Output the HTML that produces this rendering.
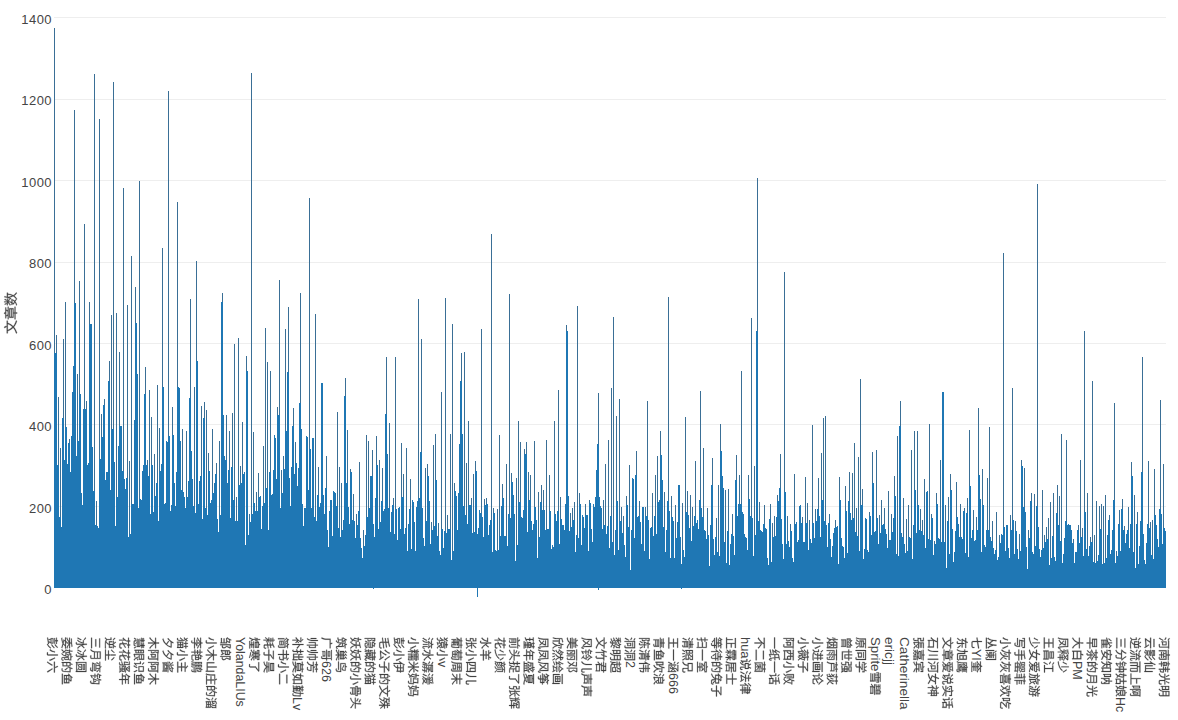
<!DOCTYPE html>
<html lang="zh"><head><meta charset="utf-8"><title>文章数</title>
<style>
html,body{margin:0;padding:0;background:#fff;}
body{width:1178px;height:720px;overflow:hidden;font-family:"Liberation Sans",sans-serif;}
svg{display:block;}
.yt text{font-size:13px;letter-spacing:0.45px;fill:#444;text-anchor:end;}
.xt text{fill:#444;}
.cj{stroke:#444;stroke-width:1.8;}
.g path{stroke:#eee;stroke-width:1;fill:none;shape-rendering:crispEdges;}
</style></head>
<body>
<svg width="1178" height="720" viewBox="0 0 1178 720" font-family="'Liberation Sans', sans-serif">
<rect width="1178" height="720" fill="#fff"/>
<defs><path id="u6587" d="M42,-82l5,8l3,7l8-2l-3-8l-5-8zM5,-66v7h16l4,11l6,10l6,10l8,8l-9,6l-10,6l-11,5l-11,4l4,7l12-5l11-5l10-6l9-7l9,7l10,6l11,5l12,4l5-7l-12-3l-10-5l-10-5l-9-7l7-8l6-9l6-11l5-11h15v-7zM50,-25l-6-8l-6-8l-5-9l-5-9h43l-4,10l-5,9l-5,7l-7,8z"/><path id="u7ae0" d="M24,-30h52v7h-52zM24,-42h52v7h-52zM16,-48v30h30v8h-41v6h41v12h8v-12h41v-6h-41v-8h30v-30zM26,-68l5,9h-26v6h90v-6h-26l5-9l-8-2l-5,11h-22l-5-10zM43,-84l4,8h-35v6h77v-6h-33l-5-9z"/><path id="u6570" d="M44,-82l-3,7l-4,6l5,3l4-6l5-7zM9,-79l4,7l2,6l6-3l-3-6l-4-7zM41,-26l-4,7l-5,6l-6-2l-6-3l5-8zM11,-15l8,3l7,4l-5,3l-5,3l-6,2l-6,1l4,6l6-2l7-3l6-3l6-4l8,6l5-5l-8-6l3-4l4-5l2-6l3-6l-5-2l-1,1h-16l2-6l-7-1l-2,7h-14v6h11l-4,6l-3,5zM26,-84v19h-21v6h18l-4,5l-5,4l-5,4l-5,2l4,6l6-4l6-5l6-6v13h7v-14l7,6l6,4l4-5l-4-3l-6-4l-6-3h19v-6h-20v-19zM63,-83l-2,13l-4,12l-4,11l-5,9l6,4l3-6l4-7l1,8l2,6l3,7l2,6l-4,7l-6,6l-6,5l-8,4l4,6l7-4l7-5l5-6l5-6l4,6l5,6l5,4l5,4l5-6l-6-4l-5-5l-5-5l-4-7l4-8l3-9l2-10l2-11h7v-7h-29l2-8l2-9zM81,-58l-1,9l-2,8l-2,7l-3,6l-2-7l-3-7l-2-8l-1-8z"/><path id="u5f6d" d="M17,-40h30v11h-30zM10,-46v23h44v-23zM15,-20l4,8l1,7l7-2l-2-7l-3-8zM84,-82l-4,6l-7,5l-6,5l-7,4l5,6l7-5l7-5l7-7l6-6zM87,-55l-5,6l-7,6l-8,6l-7,4l6,5l7-5l8-5l7-7l6-7zM89,-26l-6,8l-8,8l-9,7l-10,5l5,6l10-6l10-7l8-9l7-9zM28,-84v9h-22v6h22v9h-19v6h47v-6h-20v-9h22v-6h-22v-9zM5,-1l1,7l12-2l13-2l14-2l14-2v-7l-15,3l3-7l2-8l-7-1l-2,5l-2,6l-2,6l-8,1l-9,1l-7,1l-7,1z"/><path id="u5c0f" d="M46,-83v81l-2,2h-7h-10l3,8h8h7l4-1l4-3l1-6v-81zM70,-57l7,11l5,12l5,12l3,10l8-3l-3-10l-5-12l-6-12l-6-11zM20,-59l-2,11l-4,11l-5,10l-6,9l7,4l7-9l5-11l4-12l3-12z"/><path id="u516d" d="M6,-58v8h89v-8zM31,-38l-6,11l-6,11l-7,10l-8,8l8,5l7-9l7-10l7-12l6-12zM60,-36l8,11l7,12l7,11l5,9l8-5l-5-9l-7-10l-8-11l-7-11zM41,-81l3,7l4,8l2,6l8-3l-3-6l-3-7l-4-8z"/><path id="u59d4" d="M66,-23l-3,5l-5,5l-5,3l-7-1l-7-2l-7-1l6-9zM19,-11l7,1l6,2l6,1l6,2l-7,2l-9,2l-11,2h-11l3,7l14-1l12-3l11-3l9-3l9,2l9,3l8,2l6,3l7-6l-7-2l-7-3l-9-2l-9-2l5-5l4-5l3-6h22v-7h-53l5-7h6v-20l8,7l9,6l10,6l10,3l5-6l-9-3l-9-3l-8-5l-8-5h32v-7h-40v-10l8-1l8-1l7-1l7-1l-6-6l-13,2l-16,2l-18,1l-18,1l1,6h8l8-1h8l8-1v10h-40v7h31l-7,5l-8,5l-9,4l-9,3l4,6l10-4l11-5l9-6l8-8v18l-5-1l-3,5l-4,5h-29v7h25l-6,6l-4,6z"/><path id="u5a49" d="M68,-54v49l3,10l7,2h7l6-1l4-4l1-11l-6-3v10l-2,3h-4h-5h-3l-2-5v-44h11v24l-1,2h-8l2,6l11-2l3-6v-30zM59,-82l5,8h-26v17h7v-10h42v10h7v-17h-23l-2-5l-4-6zM44,-27l9,7l-4,8l-4,6l-4,5l-6,4l5,5l9-8l8-13l5-17l4-21l-4-1h-2h-9l2-7l-6-1l-2,9l-3,9l-4,7l-4,7l5,4l3-5l3-5l2-6l3-6h8v7l-2,6l-1,6l-8-5zM28,-56l-1,9l-2,9l-1,9l-3,7l-8-8l1-6l2-6l1-7l1-7zM15,-84v7l-1,7l-1,7h-9v7h8l-2,8l-1,8l-2,7l-2,6l7,5l6,6l-4,8l-5,6l-6,4l4,6l5-4l4-4l4-5l3-5l5,5l3,5l5-5l-4-6l-5-6l3-9l2-11l2-12l1-14l-4-1l-1,1h-11l1-7l1-7l1-6z"/><path id="u7684" d="M55,-42l4,6l5,6l4,6l2,5l7-4l-3-5l-4-6l-5-6l-4-6zM24,-84l-2,8l-2,8h-11v73h7v-7h28v-66h-17l2-7l3-8zM16,-61h21v21h-21zM16,-9v-25h21v25zM60,-84l-3,10l-4,10l-4,9l-5,7l7,4l3-5l3-6l3-6h26l-1,25l-2,18l-1,11l-2,5l-5,1h-6h-9l3,7h8h7l8-4l2-6l2-12l2-19l1-29v-4h-30l2-7l2-8z"/><path id="u9c7c" d="M6,-4v8h88v-8zM24,-32h22v12h-22zM54,-32h23v12h-23zM24,-52h22v13h-22zM54,-52h23v13h-23zM34,-84l-5,7l-6,8l-8,8l-10,7l5,6l7-5v40h68v-45h-25l4-5l4-5l2-5l-4-3h-2h-26l4-7zM23,-58l5-5l5-6h27l-4,6l-5,5z"/><path id="u51b0" d="M4,-71l7,4l6,5l5,4l4-6l-5-4l-6-5l-7-4zM4,-9l6,5l5-7l4-8l4-8l4-8l-6-4l-4,8l-4,8l-5,8l-4,6zM28,-58v7h18l-4,14l-5,11l-6,10l-8,7l5,6l9-9l7-12l6-15l4-18l-4-1h-2zM88,-64l-4,4l-4,5l-5,5l-4,4l-2-6l-2-7l-2-7v-18h-8v82l-2,2h-5h-7l3,8h9l6-2l4-8v-43l5,13l6,11l7,10l9,7l6-6l-8-5l-6-7l-6-8l-5-9l6-5l5-5l5-6l5-5z"/><path id="u5706" d="M34,-63h32v7h-32zM27,-68v18h46v-18zM47,-35v6l-1,4l-3,5l-9,5l-16,5l4,5l17-5l9-6l5-7l1-6v-6zM52,-16l6,3l7,3l6,3l5,3l3-6l-5-2l-6-3l-7-3l-6-3zM25,-44v26h6v-20h37v19h7v-25zM8,-80v88h7v-4h69v4h8v-88zM15,-2v-72h69v72z"/><path id="u4e09" d="M12,-74v7h76v-7zM19,-42v8h61v-8zM6,-7v8h87v-8z"/><path id="u6708" d="M21,-79v31l-1,13l-2,13l-5,13l-10,12l6,5l6-7l5-7l4-9l2-8h48v20l-3,3h-4h-7h-8l4,8h9l7-1l5-1l4-3l1-6v-76zM28,-71h46v16h-46zM28,-48h46v18h-47l1-9v-9z"/><path id="u5f2f" d="M23,-65l-4,6l-5,6l-5,5l6,5l4-5l4-4l3-6l3-5zM69,-62l5,5l5,4l4,5l4,4l6-4l-4-4l-4-5l-5-4l-5-4zM19,-28l-2,6l-2,7l-2,6h8h59l-4,10h-5h-7h-10l2,6l10,1h8l8-2l2-4l2-5l2-8l1-4h-66l2-7h56v-20h-62v6h55v8h-52zM43,-83l5,8h-41v6h28v25h7v-25h16v25h7v-25h28v-6h-37l-6-10z"/><path id="u94a9" d="M56,-84l-3,9l-4,9l-4,9l-6,7l6,4l4-4l3-6l3-5h31l-1,26l-1,18l-2,11l-2,5l-3,2h-5l-8-1l3,8h7h6l7-4l2-6l2-12l1-20l1-30v-4h-35l3-7l2-7zM66,-39l2,6l3,7l-17,3l3-7l3-7l3-8l2-7l-7-2l-2,9l-3,8l-3,6l-2,4l-4,7l2,6l2-1l4-1l7-1l13-3l2,7l6-2l-1-6l-2-6l-3-7l-2-7zM18,-84l-3,7l-3,7l-4,6l-4,4l3,8l5-6l5-7h25v-8h-21l4-9zM19,7l2-1l4-2l6-4l12-6l-1-6l-15,7v-23h14v-6h-14v-14h11v-7h-27v7h9v14h-14v6h14v22l-4,7l3,6z"/><path id="u9006" d="M6,-76l5,5l6,6l3,5l6-4l-4-5l-5-6l-6-5zM36,-55v28h22l-3,5l-3,6l-7,4l-8,4l4,6l10-5l7-6l5-7l2-7h25v-28h-8v21h-16v-3v-23h28v-7h-18l5-7l4-8l-7-2l-3,6l-3,6l-4,5h-17l5-3l-2-4l-4-6l-4-5l-6,3l5,8l4,7h-18v7h28v22v4h-16v-21zM25,-48h-20v7h13v32l-7,4l-7,6l5,7l5-6l5-4l4-2l9,6l6,2l6,1l8,1h8h8h10h9h7l2-8l-8,1h-9l-10,1h-9h-8l-7-1l-6-1l-5-3l-9-5z"/><path id="u5c18" d="M26,-73l-4,6l-6,7l-6,5l-6,5l6,5l6-5l7-7l5-7l5-7zM66,-70l6,6l7,6l5,6l5,6l6-4l-4-6l-6-6l-6-6l-7-5zM46,-83v40h8v-40zM46,-39v12h-33v7h33v18h-42v7h92v-7h-42v-18h33v-7h-33v-12z"/><path id="u82b1" d="M85,-48l-5,4l-6,4l-7,4l-7,4v-24h-8v28l-8,3l-7,4l3,5l12-5v15l1,8l4,3l8,1h5h8h6l5-1l4-3l2-6l1-9l-7-3l-1,9l-2,5l-3,1h-9h-8l-6-5v-19l8-4l8-4l8-5l7-4zM31,-56l-5,8l-7,9l-6,7l-8,6l6,5l5-4l6-5v38h7v-48l5-7l4-7zM63,-84v10h-25v-10h-8v10h-24v7h24v9h8v-9h25v9h7v-9h24v-7h-24v-10z"/><path id="u9a9a" d="M3,-16l1,6l6-1l6-2l7-2l6-1v-6l-8,2l-6,1l-7,2l-5,1zM59,-71l7,8l5-3l-8-8zM9,-66l-1,9l-1,9l-1,9v7h25l-1,14l-1,10l-1,6l-2,3l-4,1h-11l2,6h7h5l7-3l2-4l1-7l2-12l1-17v-3h-7l1-9l1-11l1-11l1-11h-30v7h23l-1,9v9l-1,9l-1,8h-12v-6l1-8l1-7v-7zM82,-74l-5,6l-5,6l-6,5l-7-5l-5-6l-4-6zM41,-80v6h6l-4,2l4,5l4,5l4,4l5,4l-6,3l-6,2l-5,2l-6,2l3,6l7-2l6-3l7-3l6-3l6,3l7,3l7,2l7,2l4-6l-7-1l-6-2l-7-2l-5-3l6-5l5-5l5-7l3-7l-4-2h-1zM50,-32h13v12h-13zM70,-32h13v12h-13zM77,-11l6,8h-13v-11h19v-24h-19v-8h-7v8h-19v24h19v12l-25,1l1,6l48-2l3,5l6-2l-3-6l-5-7l-5-6z"/><path id="u5e74" d="M5,-22v7h46v23h8v-23h36v-7h-36v-20h29v-7h-29v-16h32v-7h-60l4-10l-7-2l-5,10l-5,9l-6,8l-7,7l7,5l4-4l3-5l4-5l4-6h24v16h-30v27zM29,-22v-20h22v20z"/><path id="u6167" d="M28,-16v13l1,6l5,3l8,1h6h10h6l7-1l3-4l2-9l-6-2l-2,8l-4,1h-7h-9h-6l-6-3v-13zM43,-16l7,6l6,5l5-4l-6-5l-8-6zM77,-14l5,7l3,6l3,6l7-2l-3-6l-4-7l-4-6zM16,-15l-3,6l-3,6l-3,5l6,3l4-5l3-6l2-6zM18,-36v5h59v6h-63v5h70v-27h-70v5h63v6zM7,-59v5h17v5h7v-5h15v-5h-15v-5h13v-5h-13v-5h14v-5h-14v-5h-7v5h-16v5h16v5h-14v5h14v5zM67,-84v5h-16v5h16v5h-13v5h13v5h-17v5h17v5h7v-5h19v-5h-19v-5h15v-5h-15v-5h17v-5h-17v-5z"/><path id="u773c" d="M82,-55v13h-31v-13zM82,-61h-31v-12h31zM43,8l2-1l4-1l8-3l12-3v-7l-18,5v-34h11l4,14l6,12l9,10l10,7l5-6l-5-3l-5-4l-5-4l-4-5l6-4l6-4l6-4l-5-5l-5,4l-5,4l-6,3l-3-7l-3-8h21v-44h-45v75l-4,7l3,6zM29,-50v14h-15v-14zM29,-57h-15v-14h15zM29,-30v15h-15v-15zM7,-78v78h7v-8h21v-70z"/><path id="u8bc6" d="M51,-70h31v30h-31zM44,-77v44h45v-44zM74,-20l4,6l4,8l3,7l2,6l7-3l-2-6l-3-7l-4-7l-4-7zM51,-23l-3,8l-3,7l-4,6l-5,6l7,4l5-6l4-7l4-8l3-8zM10,-77l6,5l5,6l5,4l5-5l-4-4l-6-6l-6-4zM5,-53v8h14v34l-2,7l-3,4l4,5l2-2l3-2l6-5l11-9l-3-6l-11,8v-42z"/><path id="u6728" d="M46,-84v25h-39v7h35l-7,13l-10,12l-11,10l-11,8l5,6l11-7l10-10l9-11l8-13v52h8v-52l8,12l9,12l10,9l10,8l6-6l-11-8l-11-10l-10-12l-8-13h37v-7h-40v-25z"/><path id="u963f" d="M38,-77v7h42v69l-2,2h-7h-11l3,7h9h6l5-1l5-8v-69h8v-7zM42,-56v44h6v-8h22v-36zM48,-49h15v23h-15zM8,-80v88h7v-81h13l-2,7l-3,8l-3,8l6,7l2,7l1,6l-2,7l-3,1h-6l2,6h7l5-2l3-4l1-7l-1-5l-1-5l-3-6l-4-6l2-6l3-7l3-7l2-6l-5-3h-1z"/><path id="u5915" d="M32,-41l6,4l7,5l6,4l5,5l-10,8l-10,7l-12,5l-12,4l5,7l24-9l20-16l17-21l11-28l-5-2h-2h-36l3-7l4-7l-8-2l-7,13l-9,12l-10,11l-11,8l6,6l8-6l6-6l7-7l6-8h38l-3,9l-4,9l-5,7l-5,7l-6-4l-6-5l-7-4l-6-4z"/><path id="u9171" d="M9,-77l6,7l5,6l5-3l-5-7l-6-6zM12,-30v38h7v-4h62v4h7v-38h-26v-5h32v-6h-88v6h31v5zM19,-1v-4h62v4zM19,-9v-16h18l-2,4l-5,2l-9,3l3,4l9-2l5-3l4-4l1-4h13v5l2,5l7,1h7h7h2v5zM43,-35h13v5h-13zM81,-18h-3h-6h-6l-4-2v-5h19zM60,-84l-3,5l-5,6l-6,5l-6,4l4,5l7-5l7-6h27l-4,5l-5,5l-6,4l-5-6l-5-5l-5,3l5,5l4,5l-5,2l-6,1l-6,1h-7l4,6l17-3l15-5l11-9l7-14l-4-2l-1,1h-26l4-6zM6,-52l2,6l6-2l5-3l6-3l6-3v13h7v-40h-7v21l-7,3l-7,3l-6,3l-5,2z"/><path id="u732b" d="M74,-84v14h-18v-14h-7v14h-14v7h14v13h7v-13h18v13h7v-13h14v-7h-14v-14zM46,-18h15v14h-15zM46,-25v-13h15v13zM84,-18v14h-16v-14zM84,-25h-16v-13h16zM39,-45v53h7v-5h38v4h7v-52zM29,-82l-3,5l-4,6l-5-6l-5-5l-5,4l6,6l4,6l-4,4l-5,4l-5,4l5,5l6-5l6-5l3,6l1,7l-4,6l-5,7l-6,6l-5,5l5,5l4-3l4-5l4-5l4-5v5v9l-1,8l-1,7l-1,4l-3,1h-11l2,8l12-1l5-3l3-6l1-7l1-10v-10v-9l-1-9l-2-8l-3-9l5-6l4-7z"/><path id="u4e3b" d="M37,-80l7,5l6,6l4,5h-44v7h36v22h-31v8h31v24h-40v8h89v-8h-41v-24h32v-8h-32v-22h36v-7h-33l5-4l-4-3l-4-5l-5-4l-5-4z"/><path id="u674e" d="M46,-84v11h-40v7h31l-7,6l-8,6l-9,5l-9,4l4,6l11-5l10-6l9-8l8-8v22h8v-22l7,8l10,7l10,6l10,5l5-6l-9-4l-9-4l-9-6l-7-6h32v-7h-40v-11zM46,-28v6h-40v7h40v14l-2,2h-6h-9l3,7h10l7-2l4-7v-14h42v-7h-42v-2l7-3l6-4l7-3l5-4l-5-4h-1h-49v7h39l-5,3l-5,2l-6,2z"/><path id="u8273" d="M66,-31h-12v-18h12zM72,-31v-18h13v18zM76,-67l-3,6l-4,5h-19l4-5l4-6zM59,-85l-4,8l-4,7l-5,6l-5,6l4,7l2-2v47l1,6l2,4l4,2h7h6h10h7l5-1l4-2l2-6l1-8l-6-3l-1,9l-2,4l-4,1h-7h-9h-6l-6-1l-1-5v-18h38v-32h-15l5-7l4-8l-4-3h-2h-19l4-9zM22,-84v16h-17v7h17v13h-14v8h14v15h-17v7h17v26h7v-26h14v-7h-14v-15h12v-8h-12v-13h13v-7h-13v-16z"/><path id="u9e4f" d="M66,-61l6,6l5,5l4-4l-5-5l-6-5zM56,-18v6h28v-6zM86,-74h-14l4-9l-7-1l-3,10h-7v47h28l-1,11l-1,9v4l-1,3l-3,1l-10-1l2,7h10l6-3l2-3l1-7l1-10v-14v-3h-28v-35h19l-1,12v7l-1,3l-3,1h-7l1,6h9l5-3l1-3l1-5v-9l1-12v-3zM8,-80v38v11v13l-2,12l-3,11l5,3l2-8l2-9l1-9l1-9h9v26l-2,1h-6l1,6l10-1l2-6v-79zM14,-74h9v17h-9zM14,-51h9v18h-9v-9zM33,-80v41v11l-1,11l-1,12l-3,10l5,3l2-8l2-9l1-9v-9h9v27l-1,1h-7l1,6l10-1l3-6v-80zM39,-74h8v17h-8zM39,-51h8v18h-8v-6z"/><path id="u5c71" d="M11,-63v63h71v8h7v-71h-7v56h-28v-76h-8v76h-28v-56z"/><path id="u5e84" d="M54,-60v21h-26v7h26v30h-33v7h74v-7h-33v-30h28v-7h-28v-21zM47,-83l3,7l3,6h-40v26v12l-2,13l-2,13l-5,11l7,4l5-13l3-14l1-14v-12v-20h75v-6h-40l5-2l-2-6l-4-7z"/><path id="u6e9c" d="M9,-78l6,5l5,5l4,4l6-5l-5-4l-5-5l-6-4zM4,-50l6,4l6,4l4,4l5-5l-4-4l-6-4l-6-4zM6,1l7,5l4-7l4-8l4-8l3-8l-5-4l-4,8l-5,8l-4,8l-4,6zM43,-12h16v10h-16zM82,-12v10h-17v-10zM43,-18v-10h16v10zM82,-18h-17v-10h17zM60,-79v7h9v1v7l-2,7l-3,9l-5,7l6,3l5-8l3-9l2-8l1-8v-1h10l-1,11v8l-1,4l-1,3l-2,1l-7-1l1,7h9l5-3l2-3v-6l1-10v-15l1-3zM36,-34v42h7v-4h39v4h7v-42zM33,-38l3-2l5-3l13-7l1,5l6-3l-2-5l-3-7l-3-7l-6,3l4,9l-12,6v-24l7-1l6-2l6-3l-4-5l-6,2l-8,3l-7,2v25l-3,9l3,5z"/><path id="u90b9" d="M60,-79v87h8v-80h18l-3,7l-3,7l-3,7l-3,6l6,7l4,6l2,5l1,5l-3,7l-4,1h-9l2,8h10l6-2l4-6l1-8v-5l-2-6l-4-6l-6-7l4-7l3-8l4-7l3-8l-6-3h-1zM24,-68h16l-3,7l-3,7l-4,5h-19l5-6l4-6l4-7zM9,-6v8h36v5h8v-56h-15l4-5l3-6l3-6l2-6l-5-3l-1,1h-18l4-9l-8-1l-3,8l-4,9l-5,8l-7,8l6,5v4h36v14h-33v8h33v14z"/><path id="u90ce" d="M42,-48v10h-24v-10zM42,-55h-24v-10h24zM58,-78v86h7v-78h17l-2,5l-2,7l-3,6l-3,7l6,7l4,6l3,6l1,4l-4,9l-4,1h-10l3,7h10l6-3l4-5l2-8l-1-6l-3-6l-4-6l-6-7l4-8l3-7l3-7l3-7l-5-3h-1zM22,-81l7,10h-18v61l-4,8l4,6l2-2l5-2l8-3l14-7l3,6l2,6l7-4l-3-5l-3-7l-4-7l-4-6l-6,3l5,8l-19,8v-23h31v-40h-16l3-2l-3-5l-4-6z"/><path id="u714c" d="M47,-54h35v8h-35zM47,-68h35v8h-35zM9,-64l-1,7v6l-2,7l-2,5l6,2l2-6l1-7l1-6v-7zM32,-66l-2,7l-2,7l-2,7l5,2l2-6l3-7l2-7zM60,-84l-3,10h-17v34h49v-34h-25l4-8zM33,-1v7h62v-7h-26v-10h20v-7h-20v-9h24v-6h-56v6h24v9h-20v7h20v10zM18,-84v35v14l-2,13l-5,13l-7,12l5,5l5-6l3-7l3-7l2-7l6,8l4,6l5-5l-3-5l-6-7l-4-5v-7l1-8v-7v-35z"/><path id="u5bd2" d="M38,-20l6,2l7,2l6,3l4,2l4-5l-5-3l-6-2l-7-2l-6-1zM26,-4l12,3l13,3l11,3l10,3l3-6l-10-3l-11-3l-13-3l-12-2zM6,-35v6h24l-5,6l-7,5l-7,4l-7,3l5,6l8-4l8-6l8-6l6-8h22l6,7l8,6l8,6l8,4l5-6l-7-3l-7-4l-7-5l-6-5h25v-6h-26v-7h14v-6h-14v-7h16v-6h-16v-7h-7v7h-22v-7h-7v7h-16v6h16v7h-14v6h14v7zM39,-55h22v7h-22zM39,-42h22v7h-22zM44,-83l3,6h-39v19h7v-12h70v12h7v-19h-36l-5-8z"/><path id="u4e86" d="M10,-76v7h64l-6,6l-7,5l-7,5l-8,4v47l-2,2l-4,1h-7l-8-1l3,8h9h7l5-1l5-9v-43l10-6l9-7l9-7l7-7l-6-5l-1,1z"/><path id="u8017" d="M22,-84v11h-16v6h16v10h-14v7h14v10h-17v7h14l-3,6l-4,6l-4,6l-5,4l4,7l4-4l4-6l3-5l4-7v34h7v-33l6,7l4,7l5-6l-4-4l-5-7l-5-5h14v-7h-15v-10h12v-7h-12v-10h13v-6h-13v-11zM84,-84l-8,5l-10,4l-10,4l-11,3l2,6l8-2l8-3v15l-17,3l1,7l16-3v16l-19,2l1,7l18-2v17v7l4,4h6h7h6h5l3-3l2-6l1-9l-7-3v9l-2,5l-2,1h-12l-4-5v-19l26-4l-1-6l-25,4v-16l22-4l-1-6l-21,3v-16l7-3l7-3l6-4z"/><path id="u5b50" d="M46,-54v14h-41v8h41v30l-2,2h-7h-11l3,8h9l6-1h5l5-9v-30h41v-8h-41v-10l9-5l9-6l8-6l7-6l-5-5l-2,1h-65v7h57l-6,5l-6,4l-7,4l-7,3z"/><path id="u660a" d="M24,-61h52v8h-52zM24,-74h52v8h-52zM17,-80v33h67v-33zM6,-24v7h35l-5,6l-7,5l-11,5l-14,3l4,6l16-4l12-5l8-7l5-9l7,10l10,7l11,5l14,3l5-7l-13-2l-11-4l-8-5l-7-7h38v-7h-43l2-9h34v-7h-76v7h34l-2,9z"/><path id="u7b80" d="M11,-45v53h7v-53zM15,-54l7,6l4,7l6-4l-5-6l-6-7zM32,-39v35h37v-35zM21,-84l-3,7l-4,6l-4,6l-5,5l6,4l5-6l5-7h6l4,7l2,5l7-2l-5-10h14v-6h-24l3-7zM60,-84l-3,6l-3,6l-3,6l-4,4l6,4l4-5l4-6h8l4,7l3,6l6-3l-5-10h16v-6h-29l3-7zM62,-19v9h-24v-9zM38,-33h24v9h-24zM35,-54v7h47v46l-2,2h-5h-7l2,6h9l7-1l3-7v-53z"/><path id="u4e66" d="M72,-76l7,5l6,5l5,4l5-5l-5-5l-7-5l-7-4zM13,-66v7h29v19h-36v8h36v40h7v-40h37l-1,12l-1,7l-2,3l-4,1h-6h-9l2,7h9h6l8-3l2-3l2-6l1-9l1-13l1-4h-15v-26h-31v-18h-7v18zM49,-40v-19h24v19z"/><path id="u4e8c" d="M14,-70v8h72v-8zM6,-10v8h88v-8z"/><path id="u8865" d="M17,-79l5,6l5,7l5-5l-4-6l-6-6zM5,-66v7h30l-6,10l-8,10l-9,8l-9,7l4,7l5-4l6-5l5-5v39h7v-41l6,6l5,6l5,5l4-6l-9-10l5-5l6-6l-6-4l-4,5l-5,6l-6-5l4-5l4-6l3-6l3-6l-4-2h-2zM59,-84v92h8v-55l7,5l6,5l6,6l5,4l6-5l-6-6l-6-5l-8-6l-7-5l-3,2v-32z"/><path id="u62d9" d="M39,-35v37h47v5h7v-42h-7v29h-16v-36h21v-32h-8v25h-13v-34h-8v34h-14v-25h-7v32h21v36h-16v-29zM17,-84v20h-13v8h13v21l-8,2l-6,2l2,8l12-4v26l-2,1h-9l2,8l8-1l5-1l3-7v-28l11-4l-1-7l-10,3v-19h11v-8h-11v-20z"/><path id="u83ab" d="M24,-42h52v8h-52zM24,-55h52v8h-52zM17,-61v33h29l-2,8h-38v7h35l-5,5l-7,4l-11,3l-14,3l3,6l17-3l12-5l8-6l6-7l7,8l10,6l11,4l14,3l4-7l-12-1l-10-3l-9-5l-7-5h36v-7h-42l2-8h30v-33zM6,-77v7h22v7h8v-7h28v7h7v-7h23v-7h-23v-7h-7v7h-28v-7h-8v7z"/><path id="u5982" d="M40,-56l-2,9l-2,9l-2,9l-3,7l-7-5l-6-5l1-6l2-6l2-6l1-6zM10,-29l5,4l6,5l6,4l-5,6l-5,5l-6,4l-6,3l4,6l7-3l6-5l6-5l5-6l5,6l5,5l5-7l-5-5l-6-5l4-9l3-11l2-12l2-14l-5-1h-1h-16l1-6l1-7l1-6l-7-1l-1,7l-1,6l-2,7h-13v8h12l-2,7l-2,7l-2,7l-1,6zM53,-73v79h7v-8h25v6h7v-77zM60,-9v-57h25v57z"/><path id="u52e4" d="M66,-83v8v7v8h-13v6h13l-1,16l-2,13l-4,12l-6,10v-2l-20,1v-7h18v-5h-18v-6h20v-6h-20v-5h19v-21h-19v-4h11v-12h11v-6h-11v-8h-7v8h-15v-8h-7v8h-11v6h11v12h11v4h-18v21h18v5h-19v6h19v6h-18v5h18v8l-22,1l1,7l44-4l-2,2l5,5l10-11l6-14l3-17l2-20h15l-1,24l-1,15l-1,10l-2,4l-3,2l-11-1l2,7h12l7-3l1-6l2-10l1-18l1-27v-3h-22v-8v-7l1-8zM37,-70v7h-15v-7zM14,-48h12v10h-12zM33,-48h12v10h-12z"/><path id="u5e05" d="M9,-71v47h7v-47zM26,-84v40l-1,12l-2,12l-5,13l-8,11l6,4l9-11l5-14l3-14v-13v-40zM43,-66v58h7v-51h14v67h7v-67h14v42l-2,1h-9l2,7h8l5-1l3-7v-49h-21v-18h-7v18z"/><path id="u82b3" d="M44,-61l3,6l2,6h-42v7h27l-2,13l-5,12l-9,11l-13,8l5,6l10-6l9-7l5-9l4-9h37l-1,9l-2,7l-1,4l-2,3l-4,1l-6-1h-10l3,7h9h7l8-3l2-3l2-6l1-9l2-13v-3h-43l1-6l1-6h52v-7h-42l5-2l-3-6l-3-6zM64,-84v9h-28v-9h-8v9h-22v7h22v9h8v-9h28v9h7v-9h23v-7h-23v-9z"/><path id="u5e7f" d="M47,-82l3,6l2,7h-38v29v11l-1,11l-4,11l-5,11l6,5l6-11l4-13l2-13v-12v-22h72v-7h-38l4-1l-2-7l-3-7z"/><path id="u54e5" d="M25,-61h31v9h-31zM18,-66v20h45v-20zM6,-40v7h69v32l-2,2h-5h-8l3,7h9l7-1l4-8v-32h12v-7h-13v-33h11v-6h-85v6h66v33zM18,-25v26h7v-5h37v-21zM25,-20h29v11h-29z"/><path id="u7b51" d="M54,-30l6,6l5,6l4,6l6-4l-4-6l-5-6l-6-6zM4,-13l2,7l8-1l9-2l9-3l10-2v-6l-14,3v-26h13v-7h-35v7h14v27zM46,-51v22v9l-3,8l-5,8l-10,6l6,6l10-8l6-9l3-10l1-9v-16h22v38l2,10l5,2h5l5-1l3-3l1-9l-6-3v7l-1,2l-2,1h-3l-2-1v-4v-46zM20,-84l-3,8l-3,8l-5,7l-5,6l6,4l4-5l3-5l4-6h5l4,8l2,7l7-3l-2-6l-3-6h15v-6h-25l4-10zM59,-84l-2,8l-3,7l-4,7l-4,5l6,5l5-7l4-8h7l5,8l3,6l7-2l-3-6l-4-6h18v-6h-30l3-10z"/><path id="u5de2" d="M51,-84l-6,5l-8,6l6,4l6,4l4,4l7-3l-6-5l-7-4l6-4l6-5zM76,-84l-4,3l-5,4l-5,4l6,4l6,4l4,4h-50l7-3l-5-4l-7-5l6-4l5-5l-7-2l-6,5l-8,6l6,4l5,4l4,4h-12v34h30v7h-40v6h32l-8,5l-8,4l-9,3l-9,2l5,7l10-3l10-5l9-5l8-6v20h8v-20l8,6l9,5l10,4l10,4l5-7l-9-2l-9-3l-9-4l-7-5h32v-6h-40v-7h31v-34h-6l6-3l-6-4l-7-5l6-4l6-5zM24,-41h22v8h-22zM54,-41h23v8h-23zM24,-55h22v8h-22zM54,-55h23v8h-23z"/><path id="u9e1f" d="M33,-58l7,3l8,4l5,4l5-5l-6-4l-8-4l-7-3zM5,-19v7h68v-7zM76,-74h-28l5-9l-9-1l-3,10h-23v44h66l-1,12l-1,9l-2,6l-1,3l-4,1h-5l-7-1l2,7l7,1l6-1l7-3l2-3l2-8l1-11l2-16v-3h-66v-31h48l-1,10l-2,6l-1,2l-3,1h-8l2,7l9-1l6-2l1-3l2-5l1-8l1-10v-3z"/><path id="u5996" d="M41,-45v7h22l-2,10l-5,11l-7,10l-12,10l6,5l10-8l7-10l5-9l4-10l3,12l5,10l7,8l8,7l5-6l-9-7l-7-9l-5-11l-3-13h21v-7h-23l1-10v-15l7-2l7-1l6-3l-5-6l-9,4l-11,2l-12,2l-13,2l3,6l6-1l7-1l6-1v14v10zM32,-56l-1,10l-2,9l-2,8l-3,7l-5-4l-5-4l2-6l1-7l2-6l1-7zM6,-28l5,4l5,4l5,5l-4,5l-4,5l-4,4l-5,3l4,6l5-3l5-4l4-5l4-6l5,5l3,5l5-6l-4-5l-5-6l3-9l3-11l2-12l1-14l-4-1l-1,1h-12l1-7l1-7l1-7h-7l-1,7l-1,6l-2,8h-9v7h8l-1,8l-2,7l-2,7l-2,6z"/><path id="u9aa8" d="M22,-80v26h-14v19h7v-12h70v12h7v-19h-14v-26zM29,-54v-8h21v8zM70,-54h-14v-13h-27v-7h41zM72,-35v8h-44v-8zM21,-41v49h7v-16h44v8l-2,2h-5h-8l3,6h9l6-1l4-7v-41zM28,-22h44v8h-44z"/><path id="u5934" d="M54,-16l10,5l10,6l8,6l7,6l5-6l-7-6l-9-6l-10-6l-10-5zM19,-74l7,3l6,3l6,3l4,3l4-6l-4-3l-6-3l-6-3l-7-3zM10,-56l6,3l7,3l5,4l5,3l5-6l-5-3l-6-4l-6-3l-6-2zM6,-38v7h42l-5,11l-8,9l-13,7l-16,5l4,7l18-7l14-9l9-10l5-13h39v-7h-37l1-10l1-11l1-12v-12h-8v13v11l-1,11l-2,10z"/><path id="u9690" d="M48,-17v15l1,6l3,2l7,1h7h7l6-1l3-4l1-7l-6-3l-4,9h-7h-7l-4-3v-15zM39,-17l-2,6l-3,7l-3,5l6,4l3-6l3-7l2-7zM54,-21l6,4l6,5l4,4l5-4l-5-4l-5-5l-6-4zM79,-16l4,7l4,7l3,6l6-3l-3-6l-4-7l-4-6zM54,-83l-3,5l-4,6l-5,5l-6,5l5,5v3h42v8h-40v6h40v9h-43v6h50v-35h-18l6-6l5-7l-5-3h-1h-20l4-6zM44,-60l5-5l4-5h20l-4,5l-4,5zM8,-80v88h7v-81h13l-2,6l-2,6l-2,6l-2,5l6,8l2,6l1,6l-2,7l-3,1h-6l2,6h7l5-2l3-4l1-7v-5l-2-5l-3-6l-4-6l3-6l2-7l3-7l2-6l-5-3h-1z"/><path id="u85cf" d="M83,-47l-1,6l-2,6l-2,6l-2,6l-1-7l-1-7l-1-8v-8h22v-7h-6l2-2l-4-4l-5-4l-5,4l8,6h-12v-6h-3v-5h24v-6h-24v-7h-8v7h-25v-7h-7v7h-24v6h24v7h7v-7h25v8h4v3h-43v18h-9v-17h-5v26h5v-3h9v4v4h-19v7h6v4l-1,7l-2,8l-4,7l5,3l4-6l2-6l1-7v-6v-4h7v7l-1,6l-2,7l-3,6l6,3l4-9l2-11l1-10v-10v-21h37l1,11l1,10l2,9l1,9l-6,8v-3h-11v-7h10v-19h-10v-7h10v-5h-30v49h6v-6h23l-9,8l6,4l5-4l5-5l4-5l4,8l4,4l5,2l5-1l3-5l2-10l-6-3l-1,10l-2,3l-4-2l-3-5l-3-8l4-7l3-8l3-9l2-9zM48,-9h-8v-7h8zM48,-35h-8v-7h8zM40,-30h18v9h-18z"/><path id="u6bdb" d="M6,-24l1,7l33-4v13l1,7l2,4l5,3h8h4h8h8h5l7-1l4-3l3-5l1-9l-7-3l-1,9l-3,4l-4,1h-5h-8h-7h-5l-7-1l-1-6v-14l46-6l-1-7l-45,6v-16l39-5l-1-8l-38,6v-16l9-2l9-2l9-3l8-2l-7-6l-14,4l-17,4l-19,4l-19,3l3,6l7-1l8-1l7-1l8-1v15l-31,4l1,7l30-4v16z"/><path id="u516c" d="M32,-81l-5,11l-6,10l-8,10l-8,7l7,6l8-9l8-10l7-11l5-12zM66,-82l-7,3l7,12l8,11l8,10l8,9l6-7l-8-7l-8-10l-7-10l-7-11zM16,1l4-1h9l18-2l31-2l4,6l3,5l7-4l-4-7l-6-9l-7-9l-7-9l-7,4l4,5l4,5l4,6l-46,3l7-9l7-11l7-11l7-11l-9-4l-6,13l-7,11l-6,10l-5,5l-5,6l-4,3l3,7z"/><path id="u6b8a" d="M65,-83v18h-10l1-6l2-7l-7-1l-2,8l-2,8l-3,8l-4,6l1-9l-4-1h-1h-14l1-7l2-6h19v-7h-39v7h13l-3,11l-3,11l-4,9l-5,8l5,6l3-5l3-6l3-7l3-7h14l-1,7l-2,7l-2,6l-5-3l-6-4l-4,6l6,4l7,5l-5,8l-5,8l-5,5l-7,5l5,6l10-9l9-12l6-15l5-20l5,4l4-7l3-7h13v17h-24v7h20l-5,8l-7,8l-7,7l-8,6l5,5l7-5l7-7l6-7l6-9v36h7v-37l4,8l5,8l6,7l6,5l5-5l-6-6l-6-6l-6-8l-4-8h20v-7h-24v-17h20v-7h-20v-18z"/><path id="u4f0a" d="M81,-47v17h-20v-12v-5zM35,-30v7h17l-3,7l-4,7l-7,6l-9,5l5,6l10-6l8-8l5-8l3-9h21v5h8v-29h7v-7h-7v-23h-53v7h18v16h-25v7h25v5l-1,12zM81,-54h-20v-16h20zM28,-84l-5,12l-7,10l-7,10l-7,8l4,7l6-6l5-7v58h7v-69l4-7l4-7l3-7z"/><path id="u7cef" d="M44,-57v4h16v-4zM72,-57v4h15v-4zM42,-48v5h18v-5zM72,-48v5h18v-5zM5,-76l2,7l2,8l1,7l5-1l-1-7l-1-8l-3-8zM31,-78l-1,8l-2,8l-2,7l5,1l2-7l2-7l2-8zM37,-68v15h6v-9h20v21h6v-21h20v9h6v-15h-26v-6h23v-5h-52v5h23v6zM40,-24v32h6v-26h10v25h6v-25h9v25h6v-25h10v19l-1,1h-6l2,6l9-1l3-5v-26h-29l3-7h28v-6h-58v6h22l-2,7zM4,-50v7h13l-3,8l-3,9l-4,8l-4,6l4,6l3-5l3-5l2-7l3-7v38h6v-38l5,7l3,7l5-6l-4-5l-5-6l-4-5v-5h11v-7h-11v-34h-6v34z"/><path id="u7c73" d="M81,-79l-3,6l-3,7l-4,7l-4,5l6,3l4-5l4-6l5-7l3-7zM12,-75l4,6l4,6l3,6l2,5l8-3l-3-5l-3-6l-4-6l-5-6zM46,-84v38h-40v8h34l-8,10l-9,10l-9,9l-10,6l5,6l10-7l10-9l9-10l8-11v42h8v-43l8,11l9,11l10,8l10,7l6-6l-10-6l-10-8l-9-10l-8-10h34v-8h-40v-38z"/><path id="u5988" d="M38,-20v6h41v-6zM47,-65l-1,8l-1,8l-1,8l-1,7h2h41l-1,14l-2,10l-2,7l-1,3l-4,1l-11-1l2,7l7,1l5-1l7-3l2-4l2-7l2-12l2-18v-3h-12l1-10l1-10l1-9l1-9h-6h-1h-37v7h36l-1,7l-1,8l-1,8l-1,8h-23l1-6v-6l1-7l1-5zM31,-56l-1,10l-2,9l-2,8l-3,7l-4-4l-5-4l2-6l1-6l2-7l1-7zM6,-28l5,4l5,4l4,5l-3,5l-4,5l-4,4l-5,3l4,6l5-4l5-4l4-4l4-6l4,5l3,5l5-6l-4-5l-5-6l3-9l3-11l2-12l1-14l-4-1l-2,1h-10l1-7l1-7l1-7h-7l-1,7l-1,6l-2,8h-9v7h8l-1,8l-2,7l-2,7l-2,6z"/><path id="u6d41" d="M58,-36v40h6v-40zM40,-36v10v7l-2,8l-4,7l-8,7l6,5l8-8l4-9l2-8l1-9v-10zM76,-36v32l2,9l5,1h5l5-1l2-4l1-11l-5-3v10l-1,3h-2h-3h-2l-1-4v-32zM8,-77l7,4l6,4l5,5l4-6l-5-5l-6-4l-6-4zM4,-50l7,3l6,4l5,4l4-6l-5-4l-6-3l-7-3zM6,2l7,5l4-8l5-8l5-8l4-9l-5-5l-5,9l-5,9l-5,8l-5,7zM56,-82l2,5l2,6h-28v7h20l-5,6l-4,5l-3,3l-7,3l2,7l3-1h7l14-2l25-1l5,7l6-4l-4-5l-4-6l-5-5l-5-6l-6,4l8,9l-31,2l4-5l4-6l4-5h34v-7h-26l-2-6l-3-7z"/><path id="u6c34" d="M7,-58v7h25l-5,14l-6,12l-8,10l-9,7l6,6l10-9l9-12l7-16l5-18l-5-2l-2,1zM82,-65l-4,5l-5,6l-6,6l-5,5l-3-6l-2-5l-3-6v-24h-8v82l-2,2h-5h-8l3,8h10l6-2l4-8v-42l8,13l9,11l10,10l11,8l6-7l-9-5l-9-7l-7-8l-7-9l6-5l5-5l6-6l5-6z"/><path id="u6f7a" d="M7,-78l6,4l6,4l5,4l5-6l-5-3l-6-4l-7-4zM3,-51l7,4l6,4l5,3l4-6l-5-3l-6-4l-6-3zM6,3l6,4l4-8l4-9l4-9l3-9l-6-4l-3,10l-5,9l-4,9l-3,7zM32,-80v31l-1,13l-1,14l-3,13l-6,13l6,4l6-14l4-14l1-15l1-14v-13h53v-18zM39,-75h46v7h-46zM65,-49v3h-22v5h22v5l-2,1h-9l2,5h7l5-1l3-5v-5h23v-5h-23v-1l8-4l7-4l-4-3h-1h-32v5h24l-8,4zM49,-17v5l-13,2l1,6l12-3v8l-1,2h-8l1,5l11-1l3-5v-10l9-2v-5l-9,2v-3l6-4l5-5l-4-3h-2h-20v6h15l-6,5zM77,-18v5h-12v5h12v9l-1,1h-8l1,6l12-1l3-6v-9h12v-5h-12v-3l6-4l5-5l-4-3h-1h-22v6h16l-7,4z"/><path id="u6e72" d="M36,-68l3,6l2,6l6-3l-3-5l-2-6zM55,-71l2,7l2,7l6-2l-1-6l-3-7zM85,-84l-11,3l-13,2l-15,1l-14,2l1,5l15-1l15-2l14-2l13-2zM9,-77l6,3l6,4l4,4l4-7l-5-3l-6-4l-6-3zM4,-50l5,3l6,4l5,3l3-6l-4-3l-6-4l-6-3zM6,1l6,5l4-7l4-8l4-9l3-8l-5-5l-4,9l-4,8l-4,8l-4,7zM81,-73l-3,5l-3,7l-3,5h-40v6h17l-1,8h-18v6h17l-3,12l-5,11l-6,9l-8,7l5,5l6-6l5-6l5-7l3-8l4,5l4,4l4,4l-7,4l-7,2l-8,2l5,6l6-2l6-2l6-3l5-3l5,4l6,2l7,2l7,2l4-6l-6-1l-6-2l-6-2l-5-3l4-4l4-5l3-5l3-6l-4-2h-1h-30l2-8h42v-6h-41l1-8h37v-6h-14l5-7l4-8zM55,-22h23l-5,7l-6,5l-7-5l-5-7z"/><path id="u733f" d="M48,-44h34v10h-34zM29,-84l-3,7l-5,6l-5-6l-6-6l-5,4l6,6l5,7l-6,6l-7,6l5,4l6-4l6-5l2,6l1,7l-4,7l-5,6l-5,6l-6,4l5,6l4-3l4-5l4-4l4-5v4v10l-1,8l-1,7l-1,4l-4,2h-11l2,7l12-1l6-3l3-6l1-8l1-9v-11v-9l-1-9l-2-8l-3-9l4-5l4-5l3-5zM34,-62v7h61v-7h-27v-8h22v-6h-22v-8h-7v8h-21v6h21v8zM46,9l1-1l4-2l7-2l11-3l-1-6l-14,4v-16l10-7l4,10l7,9l8,8l9,5l5-6l-7-3l-6-4l-5-6l5-3l6-3l5-4l-5-5l-4,3l-6,4l-5,4l-3-6l-3-7h20v-21h-48v21h17l-5,4l-7,4l-7,3l-7,2l4,6l6-2l5-3v10l-4,6l3,7z"/><path id="u8461" d="M6,-77v7h23v5l-7-1l-3,7l-4,7l-5,7l-7,6l7,4l6-7v3h24v6h-22v39h7v-13h15v12h7v-12h16v7l-2,1h-7l2,5l10-1l2-1l1,4h10l7-4l2-5l1-11l1-17l1-26v-4h-64l2-3h7v-8h28v8h7v-8h23v-7h-23v-7h-7v7h-28v-7h-7v7zM53,-49l9,5h-15v-7h-7v7h-22l6-8h33zM47,-39h25v-5h-8l3-2l-9-6h26l-1,23l-1,15l-1,9l-2,5l-3,1h-7v-1v-33h-22zM40,-18v6h-15v-6zM40,-22h-15v-7h15zM47,-18h16v6h-16zM47,-22v-7h16v7z"/><path id="u8404" d="M18,-18v18h51v-18h-7v12h-15v-15h28v-6h-28v-11h24v-5h-40l3-6l-6-2l-3,7l-4,6l-5,5l6,3l6-8h12v11h-29v6h29v15h-15v-12zM21,-65l-3,6l-4,6l-5,7l-5,6l5,5l5-6l5-5l3-6h61l-1,23l-1,16l-1,9l-2,4l-3,2h-9l1,6h11l7-4l2-5l1-10l1-18l1-26v-4h-64l3-5zM6,-76v7h23v7h7v-7h28v7h7v-7h23v-7h-23v-8h-7v8h-28v-8h-7v8z"/><path id="u5468" d="M15,-79v32l-1,13l-1,13l-3,13l-7,12l6,5l7-13l4-15l2-14v-14v-25h58v70l-2,3h-5h-9l2,7h11l7-1l4-9v-77zM47,-70v8h-18v6h18v10h-21v6h49v-6h-21v-10h19v-6h-19v-8zM31,-31v32h7v-6h32v-26zM38,-25h25v14h-25z"/><path id="u672b" d="M46,-84v17h-40v7h40v18h-35v7h31l-8,9l-10,9l-10,7l-10,6l5,6l10-6l10-7l9-9l8-10v38h8v-38l8,9l9,9l10,8l10,6l6-6l-11-6l-10-7l-10-9l-8-9h31v-7h-35v-18h40v-7h-40v-17z"/><path id="u5f20" d="M85,-80l-5,8l-6,7l-7,6l-7,6l6,5l7-6l7-7l7-8l5-8zM12,-58l-1,8v8l-1,8l-1,7h20l-1,11l-1,8l-1,5l-1,3l-4,1l-12-1l3,7h7h5l7-3l2-3l1-7l1-10l1-15l1-3h-20v-8l1-9h18v-29h-27v7h20v15zM47,8l2-1l4-1l7-3l12-5l-1-8l-15,6v-34h10l4,14l6,12l7,11l9,8l5-7l-8-6l-7-9l-5-11l-4-12h23v-7h-40v-37h-7v37h-11v7h11v33l-5,7l3,6z"/><path id="u56db" d="M9,-75v80h7v-8h67v7h8v-79zM16,-10v-58h19l-1,16l-2,13l-5,9l-9,6l4,6l11-7l6-11l3-14v-18h14v31l1,7l3,3l5,1h11h6v-7l-6,1h-10l-2-4v-32h19v58z"/><path id="u513f" d="M26,-80v33l-1,13l-3,13l-7,13l-12,10l6,6l13-12l7-13l4-15v-15v-33zM63,-80v74l1,8l3,4l7,1h11l6-1l3-4l2-8v-12l-7-3v10l-1,7l-1,3l-2,1h-11l-3-6v-74z"/><path id="u7f8a" d="M71,-84l-2,5l-3,6l-3,6h-30l6-2l-4-7l-5-8l-7,2l5,8l3,7h-20v7h35v15h-30v7h30v15h-40v8h40v23h8v-23h41v-8h-41v-15h30v-7h-30v-15h36v-7h-20l5-7l4-8z"/><path id="u5c11" d="M23,-68l-4,8l-4,9l-5,8l-5,6l7,4l5-7l4-8l5-9l4-9zM70,-65l5,8l6,8l4,8l4,7l6-4l-3-6l-5-8l-5-9l-6-7zM76,-32l-12,13l-16,9l-21,7l-24,4l4,7l25-5l21-7l17-11l13-14zM45,-84v62h7v-62z"/><path id="u989c" d="M70,-51l-1,23l-3,15l-8,10l-15,6l4,5l16-7l8-11l4-16l1-25zM40,-46l-5,4l-6,3l-7,3l-6,2l4,5l7-3l7-3l7-4l5-4zM43,-18l-5,5l-8,5l-8,5l-9,3l5,6l9-4l9-5l8-6l6-7zM74,-8l7,5l6,6l5,5l4-5l-5-5l-6-5l-7-5zM54,-61v47h6v-41h25v41h6v-47h-19l5-11h18v-6h-44v6h19l-4,11zM23,-82l3,8h-19v6h43v-6h-17l-4-10zM42,-33l-6,5l-6,4l-8,4l-7,3v-8l1-7v-15h33v-7h-10l3-5l3-6l-6-2l-3,7l-3,6h-13l5-1l-2-6l-4-6l-5,2l3,6l2,5h-10v22v9l-1,9l-2,10l-3,8l6,4l2-6l2-6l1-6l1-7l4,5l8-3l8-5l7-5l6-5z"/><path id="u524d" d="M60,-51v41h7v-41zM81,-54v53l-2,1l-5,1l-9-1l3,8l10-1l6-1l4-7v-53zM72,-84l-2,5l-4,6l-3,5h-30l5-2l-4-7l-6-7l-7,2l5,7l4,7h-25v7h90v-7h-24l5-7l4-7zM41,-30v10h-22v-10zM41,-36h-22v-10h22zM12,-52v60h7v-22h22v13l-2,2h-11l3,7l8-1l6-1l3-7v-51z"/><path id="u6349" d="M49,-73h33v20h-33zM16,-84v20h-12v7h12v22l-13,4l2,8l11-4v26l-1,2h-10l3,7h7l5-2l4-7v-28l12-4l-1-7l-11,3v-20h12v-7h-12v-20zM42,-79v33h20v43l-5-4l-5-5l-4-8l2-7l1-8l-7-1l-2,13l-3,10l-4,9l-6,7l5,5l5-6l4-6l3-8l6,9l7,6l9,2l10,1h17l2-6h-6h-7h-5l-10-1v-23h24v-7h-24v-15h20v-33z"/><path id="u8f89" d="M43,-79v19h7v-12h37v12h7v-19zM5,-75l2,8l2,8l1,7l6-1l-1-7l-2-8l-2-8zM35,-77l-1,6l-2,6l-2,6l-2,6l5,1l2-5l2-6l2-6l2-6zM26,0l2-2l5-5l10-8v6h24v17h7v-17h22v-7h-22v-12h19v-7h-19v-11h-7v11h-12l4-7l4-9h28v-6h-26l4-9l-8-2l-3,11h-11v6h8l-3,7l-2,4l-5,6l3,7l8-1h11v12h-24v1l-3-5l-8,6v-28h8v-7h-14v-33h-6v33h-15v7h8l-1,14l-1,12l-3,10l-4,8l4,5l6-9l3-11l1-14l1-15h7v29l-4,8l4,5z"/><path id="u747e" d="M4,-10l1,7l7-2l7-3l8-3l8-3l-1-6l-10,3v-24h9v-7h-9v-22h10v-7h-30v7h12v22h-10v7h10v27zM42,-53v20h21v6h-23v6h23v7h-22v6h22v7h-28v7h60v-7h-25v-7h21v-6h-21v-7h23v-6h-23v-6h21v-20h-21v-5h15v-13h10v-6h-10v-7h-8v7h-21v-7h-7v7h-12v6h12v13h14v5zM77,-71v8h-21v-8zM49,-47h14v8h-14zM70,-47h14v8h-14z"/><path id="u76db" d="M17,-25v24h-12v7h90v-7h-12v-24zM24,-1v-18h13v18zM44,-1v-18h12v18zM63,-1v-18h13v18zM65,-81l5,4l5,4h-17l-1-11h-7l1,11h-37v12l-1,8l-1,8l-3,8l-5,8l6,5l5-6l2-7l2-7l1-7h18l-1,9l-1,4h-2h-10l2,6h11l5-2l2-4l1-6l1-11v-3h-25v-3v-5h31l2,6l2,6l3,5l3,5l-6,4l-5,3l-6,3l5,6l5-3l6-3l5-4l5,6l7,4l6,1l6-1l3-5l2-10l-6-3l-2,9l-3,3l-6-3l-7-6l5-4l4-5l3-5l3-5l-6-2l-4,6l-4,5l-5,5l-2-6l-3-6l-2-6h33v-7h-15l3-2l-5-5l-6-4z"/><path id="u590f" d="M25,-52h50v6h-50zM25,-41h50v6h-50zM25,-63h50v6h-50zM17,-67v37h18l-5,4l-7,5l-9,4l-9,4l4,5l7-3l7-3l5-3l5,4l4,4l6,4l-10,2l-9,2l-10,2l-10,1l3,6l11-1l11-2l11-3l10-4l10,4l10,3l11,2l12,1l4-7l-10-1l-10-1l-9-2l-9-2l6-4l6-4l5-4l4-5l-5-3h-1h-35l5-5h39v-37h-32l2-6h39v-7h-84v7h37l-1,6zM51,-8l-6-4l-6-3l-4-5h33l-5,5l-5,3l-7,4z"/><path id="u51e4" d="M15,-79v25v14l-2,15l-3,15l-6,14l6,4l7-14l3-17l2-16v-14v-19h55v30l2,25l3,18l7,6l4-2l3-6l1-10l-5-5v10l-2,5l-3-7l-2-19l-1-25v-27zM30,-39l6,4l5,5l6,6l-5,6l-6,5l-6,4l-7,4l5,6l6-4l7-5l6-5l5-6l6,6l4,5l4,5l5-5l-4-6l-5-5l-5-6l4-7l4-8l3-9l2-9l-5-2l-1,1h-34v7h31l-2,6l-2,5l-3,6l-3,5l-5-5l-6-5l-5-4z"/><path id="u98ce" d="M16,-79v29v13l-2,14l-4,14l-6,12l6,5l7-13l4-15l2-16l1-14v-22h52v34l2,25l4,15l7,5l5-2l2-5l1-11l-5-5v11l-2,4l-4-5l-2-16l-1-25l1-32zM61,-65l-2,6l-3,6l-2,6l-3,6l-4-5l-5-5l-4-5l-4-5l-6,3l5,6l4,6l5,6l5,6l-5,7l-6,7l-6,6l-6,5l6,6l5-5l6-6l5-7l5-7l5,6l4,6l4,6l2,5l8-4l-4-6l-4-6l-5-7l-6-7l4-7l3-7l3-7l3-7z"/><path id="u7b5d" d="M20,-86l-3,8l-4,7l-4,6l-5,5l6,4l6-6l5-8h5l3,8l6-2l-5,5l-5,6l-7,5l-9,4l6,6l6-4v2h25v8h-41v6h41v9h-28v6h28v10l-2,2h-6h-10l3,7h8h6l4-1l5-8v-10h30v-15h12v-6h-12v-14h-25l5-5l5-5l-5-3h-1h-23l4-5l-8-2v2l-3-6h17v-6h-26l3-8zM76,-17h-22v-9h22zM76,-32h-22v-8h22zM35,-53h23l-9,7h-23l5-3l4-4zM59,-85l-3,8l-4,6l-5,6l6,4l4-4l4-5h7l4,6l3,6l7-4l-5-8h17v-6h-30l3-7z"/><path id="u6b23" d="M10,-74v36v10l-1,10l-2,10l-3,10l5,4l4-10l3-11l1-12v-11v-9h13v52h8v-52h9v-7h-30v-15l8-2l8-2l7-2l6-3l-6-5l-6,3l-7,2l-8,2l-9,2zM60,-84l-2,11l-3,11l-4,9l-5,8l6,4l4-6l3-7l3-7h26l-1,7l-2,6l-2,5l6,2l2-5l2-7l2-7l1-7l-4-1h-2h-26l2-7l1-8zM67,-55v7l-1,11l-3,14l-6,13l-13,13l5,5l8-7l7-9l4-8l3-8l4,9l4,9l6,7l7,7l5-6l-9-8l-6-9l-5-11l-4-14l1-8v-7z"/><path id="u7136" d="M76,-79l7,7l4,7l6-3l-5-7l-6-7zM34,-11l2,6v7v5l8-1l-1-5v-7l-2-6zM55,-12l3,7l2,6l1,6l7-2l-1-5l-2-7l-3-6zM76,-12l4,5l3,5l4,6l2,4l7-3l-4-6l-4-7l-6-7zM17,-14l-4,7l-4,7l-5,5l7,3l4-4l3-5l3-6l3-5zM66,-83v18v2h-16v7h16l-2,9l-5,9l-7,9l-12,8l5,5l10-6l7-7l5-7l3-8l4,9l5,7l5,6l7,5l5-6l-8-5l-6-8l-5-9l-3-11h20v-7h-20v-2v-18zM26,-85l-4,10l-5,9l-6,9l-8,8l6,5l5-6l5-6l4-6l4-7h16l-2,7l-2,6l-6-4l-6-3l-3,5l6,3l6,4l-6,9l-5-4l-6-4l-5,4l7,4l5,5l-4,4l-5,4l-6,3l-5,3l5,5l14-8l11-12l10-16l6-20l-5-1h-1h-16l3-8z"/><path id="u7ed8" d="M4,-5l2,7l6-3l8-3l8-3l8-3l-2-6l-8,3l-8,3l-8,3l-6,2zM48,-51v7h34v-7zM6,-42l3-1l11-2l-6,8l-3,5l-7,7l2,7l2-1l5-2l8-2l14-4l-1-6l-17,4l5-7l5-8l5-7l4-9l-6-3l-3,6l-3,5l-11,2l4-7l4-8l4-8l3-8l-7-3l-3,9l-4,8l-3,7l-3,4l-5,7l3,7zM39,6l3-1l6-1l13-2l22-2l4,8l6-3l-3-6l-3-6l-5-6l-4-6l-6,2l4,6l3,5l-29,3l4-6l4-6l3-6l3-5h28v-7h-52v7h16l-3,6l-4,6l-4,6l-2,4l-6,3l2,7zM64,-84l-6,10l-6,9l-8,8l-9,6l4,7l7-5l7-7l6-8l6-8l6,7l7,8l7,6l7,6l4-7l-8-5l-7-7l-7-7l-6-7l2-4z"/><path id="u753b" d="M9,-78v8h82v-8zM26,-59v45h48v-45zM32,-34h14v13h-14zM53,-34h14v13h-14zM32,-53h14v13h-14zM53,-53h14v13h-14zM9,-53v56h75v5h7v-61h-7v49h-67v-49z"/><path id="u7f8e" d="M70,-84l-4,7l-5,7h-27l4-2l-4-6l-5-6l-6,2l4,6l3,6h-20v7h36v8h-31v6h31v9h-40v7h39l-1,7h-36v7h34l-5,7l-7,6l-11,4l-15,3l4,7l17-4l12-6l8-7l5-9l7,10l9,7l11,5l14,4l5-7l-13-3l-11-4l-8-5l-7-8h37v-7h-42l1-7h42v-7h-41v-9h32v-6h-32v-8h36v-7h-21l4-6l4-6z"/><path id="u4e3d" d="M20,-40l4,7l3,7l3,6l6-2l-3-6l-3-7l-4-7zM64,-39l4,7l3,7l3,6l6-3l-3-6l-4-7l-3-6zM5,-78v7h90v-7zM11,-60v68h7v-62h20v53l-2,1h-9l3,7h7l5-1l3-7v-59zM54,-60v68h7v-62h22v53l-2,2l-10-1l3,8l8-1l5-1l3-7v-59z"/><path id="u9093" d="M7,-52l5,5l4,6l5,5l5,6l-5,8l-6,8l-5,6l-7,5l6,6l6-6l5-6l5-7l5-7l4,6l4,5l3,6l6-5l-4-6l-4-6l-5-7l4-10l3-11l3-12l2-12l-4-2l-2,1h-34v7h32l-1,9l-3,8l-2,8l-3,7l-4-5l-4-5l-5-5l-4-4zM56,-79v87h7v-80h21l-2,7l-3,7l-4,7l-3,6l7,7l4,6l2,5l1,5l-3,7l-5,1h-10l2,8h11l7-2l4-6l1-8l-1-5l-2-6l-4-6l-6-7l4-7l3-8l4-7l3-7l-5-4h-1z"/><path id="u94c3" d="M60,-53l5,7l5,6l6-4l-5-6l-6-6zM18,-84l-3,7l-3,7l-4,5l-5,5l4,7l5-6l5-7h24v-7h-20l4-9zM6,-34v6h15v20l-2,6l-4,4l5,5l1-1l4-2l7-4l11-6l-1-6l-14,6v-22h14v-6h-14v-14h10v-7h-27v7h10v14zM66,-84l-4,10l-7,10l-7,9l-9,8l5,5l7-7l7-7l5-7l5-9l5,9l6,8l6,7l6,5l6-5l-7-6l-7-7l-6-9l-5-8l1-4zM48,-37v7h32l-3,5l-4,5l-3,5l-3,5l-10-7l-5,4l7,5l7,6l6,5l5,5l5-5l-4-4l-6-5l5-6l5-8l4-7l4-8l-5-3l-1,1z"/><path id="u58f0" d="M46,-84v8h-39v7h39v10h-33v6h76v-6h-35v-10h39v-7h-39v-8zM15,-45v13v9l-2,9l-4,9l-6,8l6,5l5-5l3-6l3-7l1-7h58v5h8v-33zM79,-23h-25v-16h25zM22,-23l1-9v-7h23v16z"/><path id="u7af9" d="M21,-84l-3,12l-5,11l-5,11l-5,8l6,5l4-6l4-6l3-7h5v64h7v-64h18v-8h-27l2-6l2-6l2-6zM59,-84l-3,12l-4,11l-5,11l-5,8l6,5l4-6l3-6l3-7h15v54l-2,2h-5h-9l3,8h10l6-2l5-8v-54h15v-8h-35l2-6l2-6l2-7z"/><path id="u541b" d="M5,-62v7h32l-4,11h-18v6h15l-6,7l-5,7l-7,6l-8,5l4,6l7-4l6-5l5-5v29h8v-5h45v5h7v-36h-54l3-5l3-5h46v-17h11v-7h-11v-17h-68v6h26l-3,11zM34,-3v-18h45v18zM76,-55v11h-35l4-11zM76,-62h-29l3-11h26z"/><path id="u9ece" d="M24,-21l5,5l4,5l6-4l-4-5l-5-4zM61,-84l-2,6l-3,6l-4,6l-3,5v-6h-18v-9l9-1l7-2l-5-5l-7,2l-9,2l-10,1l-10,1l2,5h8l8-1v7h-18v6h16l-4,5l-4,5l-5,4l-5,4l4,5l6-5l5-5l5-6v16h7v-17l6,5l5,4l4-5l-7-5l-7-5h16l-1,2l5,3l5-5l3-6h10l-3,6l-3,5l-4,5l-4,4l6,4l4-5l5-6l3-6l3-7h9l-1,12l-1,6l-1,3l-3,1h-8l2,7h9l5-3l2-3l1-5l1-9l1-12v-3h-29l3-10zM71,-24l-5,5l-6,5l-6-2v-16h-8v17l-9,3l-9,4l-9,3l-7,3l3,6l7-3l8-3l8-4l8-4v11l-1,1h-9l2,6h8l4-1l4-6v-11l8,3l8,4l7,4l6,3l4-5l-6-3l-7-4l-8-3l6-5l5-6zM51,-48l-9,7l-12,7l-13,6l-13,5l4,5l12-4l11-5l10-6l9-6l10,7l11,5l10,5l11,4l4-7l-10-3l-11-4l-10-5l-10-6l2-2z"/><path id="u660e" d="M34,-45v20h-19v-20zM34,-52h-19v-19h19zM8,-78v69h7v-9h26v-60zM85,-73v18h-28v-18zM50,-80v36v12l-3,13l-6,12l-10,11l6,5l7-7l6-9l3-8l3-9h29v22l-2,2l-6,1l-9-1l3,8h11l6-2l5-8v-78zM85,-49v18h-28v-7v-6v-5z"/><path id="u8d85" d="M59,-35h24v19h-24zM52,-41v31h39v-31zM10,-39l-1,13l-1,12l-2,10l-3,8l6,4l2-6l2-6l2-8l6,9l9,5l11,3h14h39l3-7h-8h-13h-13h-8h-7l-6-1l-6-1l-5-1v-20h16v-7h-16v-14h16l4,3l8-5l5-7l4-8l2-10h16l-1,10l-1,6l-1,3l-3,1h-10l2,6h11l6-2l1-3l1-5l1-8l1-12v-3h-44v7h14l-2,8l-3,6l-4,6l-6,4v-4h-18v-12h16v-7h-16v-12h-7v12h-16v7h16v12h-18v7h20v37l-5-6l-4-9v-7v-7z"/><path id="u6d1e" d="M46,-63v6h34v-6zM8,-77l7,3l6,4l5,4l5-6l-5-4l-7-3l-6-3zM4,-50l6,3l7,4l5,3l4-6l-5-3l-7-4l-6-3zM6,1l7,5l4-7l5-8l4-9l4-8l-6-5l-4,9l-5,8l-4,8l-5,7zM33,-80v88h7v-81h45v71l-2,3h-5h-7l2,7h10l6-1l4-9v-78zM49,-47v38h6v-6h21v-32zM55,-40h15v18h-15z"/><path id="u9648" d="M78,-22l3,6l4,6l3,7l2,5l6-4l-2-5l-3-6l-4-6l-3-6zM46,-24l-2,5l-4,6l-3,6l-4,5l5,5l4-6l4-6l4-7l3-6zM8,-80v88h7v-81h13l-2,6l-2,6l-2,6l-2,5l5,8l3,6v6l-2,7l-2,1h-6l2,7l6-1l6-1l3-5v-7v-5l-1-5l-3-5l-4-6l3-7l2-7l2-7l2-6l-5-3h-1zM37,-71v7h13l-3,11l-3,6l-5,8l2,7l9-1h12v32l-2,2l-10-1l2,8h8l6-2l3-7v-32h22v-7h-22v-15h-7v15h-14l3-5l2-6l3-6l2-7h36v-7h-34l2-6l2-7l-9-1l-1,7l-2,7z"/><path id="u6e05" d="M8,-77l6,3l6,4l4,4l5-6l-5-4l-6-3l-5-3zM4,-51l6,4l6,4l4,4l5-6l-5-4l-6-4l-6-3zM7,2l6,5l4-8l4-8l4-9l3-8l-6-4l-4,8l-4,9l-4,8l-3,7zM43,-21h36v8h-36zM43,-27v-7h36v7zM58,-84v8h-26v6h26v6h-24v6h24v6h-30v6h67v-6h-30v-6h24v-6h-24v-6h26v-6h-26v-8zM36,-40v48h7v-16h36v8l-2,1h-11l2,7l9-1l6-1l3-6v-40z"/><path id="u4f1f" d="M58,-84v13h-24v7h24v12h-22v6h22v12h-28v7h28v35h7v-35h22l-1,10l-1,7l-1,2l-3,1h-7l2,7h8l6-3l1-3l1-5l1-8l1-12v-3h-29v-12h24v-6h-24v-12h27v-7h-27v-13zM27,-84l-4,12l-6,10l-6,10l-7,8l4,8l5-6l4-6v56h7v-67l3-6l3-5l2-6l2-6z"/><path id="u9752" d="M73,-34v8h-46v-8zM20,-39v47h7v-16h46v8l-2,2h-5h-9l3,6h10l7-1l4-7v-39zM27,-21h46v7h-46zM46,-84v7h-34v6h34v6h-30v6h30v7h-40v6h88v-6h-40v-7h30v-6h-30v-6h35v-6h-35v-7z"/><path id="u5439" d="M52,-84l-3,12l-3,12l-5,10l-6,8l7,5l3-5l3-5l3-6l2-6h33l-1,7l-2,6l-2,5l6,2l2-5l3-7l2-7l2-7l-6-1h-1h-33l2-8l2-9zM62,-52v9l-1,11l-4,12l-9,12l-16,10l5,6l12-7l8-8l6-8l3-8l5,10l5,9l7,7l9,5l5-7l-11-6l-8-9l-5-11l-4-13v-5v-9zM7,-75v66h7v-8h21v-58zM14,-68h13v44h-13z"/><path id="u6d6a" d="M9,-77l6,4l5,5l5,4l5-5l-5-4l-5-5l-6-3zM4,-50l6,4l7,4l4,4l5-6l-5-4l-6-3l-6-4zM6,1l7,5l4-8l4-8l4-8l3-8l-6-4l-4,8l-4,9l-4,8l-4,6zM79,-49v11h-37v-11zM79,-55h-37v-11h37zM35,9l2-2l5-1l7-3l13-5l-1-6l-19,6v-29h15l6,13l7,11l10,8l11,6l5-6l-6-3l-5-3l-5-3l-5-5l6-3l5-4l5-4l-5-4l-4,3l-5,4l-6,3l-4-6l-3-7h23v-42h-20l-2-6l-4-6l-6,2l4,10h-24v67l-4,9l4,6z"/><path id="u738b" d="M5,-4v8h90v-8h-41v-31h32v-7h-32v-28h36v-7h-80v7h36v28h-31v7h31v31z"/><path id="u4e00" d="M4,-43v8h92v-8z"/><path id="u6db5" d="M41,-50l6,7l5,6l5-3l-5-7l-6-6zM9,-77l8,5l6,5l5-5l-7-6l-8-5zM4,-50l5,3l6,4l4,3l4-6l-4-3l-6-3l-5-3zM7,2l7,4l3-7l3-8l4-7l3-8l-6-4l-4,8l-3,8l-4,7l-3,7zM30,-62v64h55v6h7v-69h-7v57h-48v-58zM58,-61v24l-5,4l-5,3l-5,4l-4,3l3,5l5-4l6-4l5-4v14l-1,1h-9l2,6h7l5-1l3-6v-16l6,5l6,5l4,4l4-4l-3-4l-5-4l-6-5l4-5l5-5l4-5l-6-4l-3,5l-4,6l-4,5l-2-1v-19l6-4l6-4l6-5l5-5l-5-4l-2,1h-47v7h40l-5,4l-5,4l-6,3z"/><path id="u7167" d="M53,-41h29v15h-29zM46,-47v28h44v-28zM34,-12l1,7l1,7v6l7-2v-5l-1-7l-1-7zM55,-13l3,7l2,7l2,6l7-1l-2-6l-2-7l-3-7zM76,-13l3,5l4,6l3,5l2,5l8-3l-3-5l-3-5l-4-6l-3-5zM17,-15l-2,5l-4,6l-3,5l-4,4l8,3l3-4l3-6l4-6l3-5zM16,-73h15v18h-15zM16,-29v-20h15v20zM9,-80v63h7v-5h22v-58zM43,-80v7h17l-3,6l-3,6l-6,4l-8,3l4,6l10-4l6-6l4-7l3-8h18l-1,10l-2,5h-3h-10l2,6h11l6-2l2-4l1-7l1-12v-3z"/><path id="u5144" d="M24,-71h53v27h-53zM16,-78v41h16l-2,13l-4,11l-9,8l-13,6l4,7l15-7l10-10l5-13l2-15h18v33v7l4,3l7,1h8h7l6-1l3-3l2-7l1-11l-7-3l-1,12l-1,5l-3,1h-7h-7l-5-4v-33h20v-41z"/><path id="u626b" d="M20,-84v20h-15v7h15v22l-16,3l2,8l14-4v27l-2,2h-10l2,7l8-1l6-1l3-7v-29l14-3l-1-7l-13,3v-20h13v-7h-13v-20zM42,-75v7h41v25h-39v8h39v28h-42v7h42v8h7v-83z"/><path id="u5ba4" d="M15,-22v7h31v13h-40v7h88v-7h-40v-13h32v-7h-32v-10h-8v10zM19,-30l3-1l8-1l16-1l29-3l5,7l6-4l-4-5l-5-4l-5-5l-6-5l-5,4l8,7l-39,3l6-5l6-5l5-5h37v-6h-67v6h20l-5,6l-5,4l-3,2l-7,4l2,7zM44,-83l3,8h-40v18h7v-11h72v11h7v-18h-37l-5-10z"/><path id="u7b49" d="M58,-84l-3,6l-3,6l-4,5l-5,4l3,2v7h-31v6h31v9h-41v7h61v8h-58v7h58v16l-2,2h-5h-9l2,7h11l7-1l4-8v-16h19v-7h-19v-8h22v-7h-42v-9h32v-6h-32v-7h-2l6-8h7l4,6l3,6l7-3l-6-9h21v-7h-32l3-7zM22,-13l7,5l6,6l4,5l6-5l-4-5l-7-5l-6-5zM19,-84l-3,6l-4,6l-4,6l-5,5l7,4l4-5l5-7h4l3,6l1,5l7-2l-3-9h18v-7h-26l3-7z"/><path id="u5f85" d="M42,-20l4,6l4,6l3,5l7-3l-3-6l-5-6l-4-6zM26,-84l-5,6l-5,5l-6,5l-6,5l4,6l7-5l7-6l6-6l4-7zM61,-84v13h-22v7h22v12h-28v7h42v12h-41v7h41v25l-2,2h-5h-9l3,7h10l6-1l4-8v-25h14v-7h-14v-12h14v-7h-28v-12h23v-7h-23v-13zM27,-62l-5,8l-6,7l-6,7l-7,6l4,7l6-5l5-6v46h8v-55l4-6l4-6z"/><path id="u5154" d="M65,-20l6,5l5,5l4,5l5-5l-4-5l-5-4l-6-5zM22,-51h25l-1,6l-1,6l-1,7h-22zM54,-51h26v19h-28l1-7l1-6v-6zM33,-84l-5,8l-7,9l-8,8l-10,8l5,5l7-5v25h27l-5,9l-7,8l-11,6l-15,5l5,6l16-6l12-8l8-9l5-11h3v23l1,6l4,4l8,1h5l8-1l5,1l6-1l3-3l2-5l1-8l-7-3l-1,10l-4,3h-9h-9l-6-4v-23h28v-32h-30l3-5l4-5l3-5l-5-4l-1,1h-25l4-7zM22,-58l6-6l4-6h25l-4,6l-4,6z"/><path id="u6b63" d="M19,-51v47h-14v8h90v-8h-39v-31h32v-8h-32v-26h36v-8h-83v8h40v65h-23v-47z"/><path id="u9716" d="M19,-58v4h22v-4zM17,-49v5h24v-5zM58,-49v5h25v-5zM58,-58v4h23v-4zM23,-41v9h-17v6h15l-3,7l-5,6l-4,6l-5,4l4,5l4-4l4-4l4-5l3-6v25h7v-24l6,6l5,5l4-6l-4-3l-6-5l-5-3v-4h16v-6h-16v-9zM66,-41v9h-17v6h13l-3,7l-5,6l-5,5l-6,5l5,5l5-5l5-5l4-6l4-6v28h8v-28l3,7l5,6l5,5l5,4l4-6l-5-4l-5-5l-5-6l-4-7h17v-6h-20v-9zM8,-69v18h6v-12h32v22h7v-22h33v12h6v-18h-39v-5h33v-6h-73v6h33v5z"/><path id="u5c45" d="M22,-72h59v11h-59zM22,-54h32v11h-32v-7zM30,-24v32h7v-4h42v4h7v-32h-25v-12h33v-7h-33v-11h27v-25h-74v29v13l-1,15l-4,13l-6,13l7,4l5-10l3-11l3-12l1-11h32v12zM37,-2v-16h42v16z"/><path id="u58eb" d="M46,-84v32h-41v7h41v40h-35v7h79v-7h-36v-40h41v-7h-41v-32z"/><path id="u8bf4" d="M11,-77l6,5l5,6l4,5l6-5l-5-5l-5-6l-6-5zM46,-57h34v18h-34zM18,4l1-2l4-2l6-6l12-8l-3-7l-11,8v-40h-23v8h15v33l-2,6l-4,3l5,7zM38,-64v32h13l-1,11l-4,10l-6,8l-10,5l4,6l12-7l7-9l4-11l2-13h9v29v6l3,3l6,1h10l5-2l3-5l1-10l-7-3l-1,10l-2,3h-8l-3-4v-28h12v-32h-10l3-6l2-5l3-7l-8-2l-2,7l-3,7l-3,6h-17l6-3l-2-5l-3-6l-4-6l-6,3l3,6l3,6l3,5z"/><path id="u6cd5" d="M10,-78l6,4l7,4l5,4l5-6l-6-4l-6-4l-7-3zM4,-50l7,3l7,4l5,3l4-6l-5-3l-7-4l-7-3zM8,2l6,5l4-8l5-8l5-8l4-9l-5-5l-5,9l-5,9l-5,8l-4,7zM39,4h2l7-1l13-2l22-3l5,10l6-4l-3-6l-4-7l-5-8l-6-7l-6,3l5,6l4,7l-31,3l4-6l5-8l4-8l4-7h29v-8h-27v-18h23v-7h-23v-17h-7v17h-22v7h22v18h-26v8h22l-4,8l-4,7l-3,6l-3,3l-6,7l3,7z"/><path id="u5f8b" d="M25,-84l-4,6l-5,5l-6,5l-6,5l4,6l7-5l7-6l6-6l5-7zM36,-29v6h23v9h-27v6h27v16h7v-16h29v-6h-29v-9h24v-6h-24v-8h23v-15h7v-7h-7v-14h-23v-11h-7v11h-21v6h21v8h-25v7h25v9h-21v6h21v8zM66,-67h16v8h-16zM66,-43v-9h16v9zM27,-62l-5,8l-6,7l-6,7l-7,6l4,7l6-5l5-6v46h7v-55l5-6l4-6z"/><path id="u4e0d" d="M56,-48l9,7l10,7l8,7l7,7l6-6l-7-6l-9-7l-9-7l-9-7zM7,-77v8h44l-8,12l-11,12l-13,11l-15,8l6,7l10-6l9-7l9-8l8-8v56h8v-66l4-6l3-5h32v-8z"/><path id="u83cc" d="M66,-50l-8,2l-10,1l-11,2h-10l1,5h6l6-1h6v8h-22v5h19l-4,5l-6,5l-6,4l-5,2l4,6l5-4l6-4l5-4l4-5v17h7v-18l6,4l5,5l5,4l3,4l5-3l-4-4l-5-5l-5-4l-6-5h20v-5h-24v-9l7-1l6-1l6-1zM63,-84v6h-27v-6h-7v6h-23v7h23v9h7v-9h27v9h8v-9h23v-7h-23v-6zM12,-59v67h7v-4h62v4h8v-67zM19,-2v-51h62v51z"/><path id="u7eb8" d="M4,-5l2,7l8-2l8-2l9-2l9-2l-1-7l-9,2l-10,2l-8,2l-8,2zM6,-42l5-1l12-2l-6,8l-4,6l-8,6l2,6v1l2-1l5-2l10-2l16-3v-6l-22,4l6-7l5-8l6-8l5-8l-6-3l-3,5l-3,5l-14,1l5-6l4-8l4-8l4-8l-7-3l-4,9l-4,8l-4,7l-2,4l-6,7l2,7zM44,8l2-1l4-2l7-2l12-5l-1-6l-17,5v-35h19l2,18l3,14l5,10l7,3l4-1l3-3l1-6l1-9l-6-4v12l-2,4l-4-3l-3-8l-3-12l-1-15h17v-7h-18v-7v-7v-7v-7l8-2l8-2l-5-6l-9,2l-11,2l-11,2l-12,2v70l-3,7l3,6zM69,-45h-18v-24l9-2l8-1v7v7l1,6v7z"/><path id="u8bdd" d="M10,-77l5,5l5,5l4,5l6-5l-5-5l-5-5l-5-4zM42,-29v37h7v-4h33v4h8v-37h-20v-17h26v-7h-26v-19l7-2l7-2l7-1l-6-6l-10,2l-12,3l-13,2l-14,1l3,7l7-1l8-1l8-1v18h-26v7h26v17zM49,-3v-19h33v19zM4,-53v8h14v35l-2,6l-3,3l4,6l2-2l3-2l6-5l11-8l-3-7l-11,8v-42z"/><path id="u897f" d="M6,-78v8h30v14h-25v64h8v-7h63v6h7v-63h-25v-14h30v-8zM19,-6v-18l4,5l9-6l6-8l3-8l1-8h15v16l1,6l3,3l6,1h7h7h1v17zM19,-25v-24h17l-1,7l-3,6l-5,6l-8,5zM42,-56v-14h15v14zM64,-49h18v19h-2h-6h-6l-4-3z"/><path id="u8d25" d="M23,-66v27v11l-3,11l-5,11l-11,9l4,5l12-10l6-12l3-13l1-12v-27zM29,-13l4,7l5,6l3,5l6-3l-4-6l-4-6l-5-6zM9,-79v61h6v-54h23v53h6v-60zM62,-60h19l-1,12l-3,9l-3,9l-3,8l-4-6l-3-8l-3-7l-2-8l3-9zM62,-83l-3,11l-3,11l-5,10l-5,8l5,7l4-7l2,8l3,7l4,6l3,7l-4,5l-5,5l-5,4l-6,3l5,6l5-3l5-5l5-4l5-6l4,6l5,4l5,4l6,4l4-6l-5-3l-6-4l-5-5l-5-6l4-9l4-10l3-12l2-13h7v-6h-30l2-8l2-8z"/><path id="u8587" d="M21,-64l-3,4l-4,5l-5,5l-5,3l4,5l6-4l5-5l5-5l4-6zM63,-84v7h-27v-7h-7v7h-23v6h23v7h7v-7h27v7h7v-7h25v-6h-25v-7zM70,-64l-1,10l-2,9l-3,8l-3,7v-5h-32v5h32v1l4,5l4-9l2,7l2,7l3,7l-4,6l-6,5l-6,4l5,5l5-4l5-5l4-5l4,5l4,5l5,4l4-6l-5-3l-4-5l-4-6l3-7l2-8l2-8l2-9h3v-6h-21l2-7v-6zM43,-64v17h-7v-13h-5v19h30v-19h-6v13h-7v-17zM51,3l2-2l5-4l10-6l-2-5l-8,5v-15h-25v9l-1,6l-2,6l-4,6l5,3l4-4l2-6l2-5v-6v-3h13v8l-4,7l3,6zM24,-48l-4,6l-5,7l-6,7l-6,5l5,5l4-4l4-4v34h7v-43l4-5l3-6zM73,-44h12l-1,7l-1,6l-2,6l-2,5l-2-5l-1-6l-2-6l-1-7z"/><path id="u8fdb" d="M8,-78l6,6l5,6l4,5l6-5l-4-5l-6-5l-5-6zM72,-82v16h-16v-16h-8v16h-14v7h14v12v6h-15v7h14l-1,6l-3,6l-3,5l-5,4l5,6l6-6l4-6l3-7l1-8h18v26h8v-26h14v-7h-14v-18h12v-7h-12v-16zM56,-59h16v18h-17l1-6zM26,-48h-21v7h14v29l-5,2l-5,5l-5,5l5,7l5-7l4-4l4-2l10,6l5,3l7,1l7,1h9h8h10h9l7-1l2-8l-8,1l-9,1h-10h-9h-8h-7l-6-2l-5-2l-8-6z"/><path id="u8bba" d="M11,-77l4,4l5,5l5,4l3,4l5-6l-3-3l-5-5l-5-4l-5-4zM62,-84l-4,9l-7,10l-9,9l-10,9l5,5l8-7l8-7l6-8l6-8l6,8l7,8l7,8l7,6l6-6l-8-6l-8-8l-8-8l-6-9l2-4zM81,-43l-6,4l-7,4l-7,4l-7,4v-20h-8v41l1,7l4,3l9,1h6h9h6l6-1l3-2l2-6l2-8l-7-3l-1,8l-2,5h-4h-6h-8h-6l-6-4v-13l7-4l9-4l8-5l8-4zM19,6l2-2l3-3l6-5l10-8l-3-6l-10,8v-43h-23v8h16v36l-5,10l4,5z"/><path id="u70df" d="M8,-64v7l-1,6l-1,6l-2,6l6,2l1-6l2-7v-6l1-7zM34,-66l-2,6l-2,8l-3,6l5,3l3-7l3-7l3-7zM19,-84v35v14l-2,13l-5,13l-8,12l5,5l5-6l5-7l3-7l2-8l4,6l4,6l3,5l5-5l-3-4l-4-6l-4-6l-4-5l1-7v-6v-7v-35zM64,-69v13v4h-14v6h13l-1,9l-3,8l-4,9l-7,8l5,4l5-6l4-6l3-6l2-7l4,7l3,6l3,6l2,5l6-3l-3-6l-4-8l-5-8l-4-7v-5h14v-6h-13v-4v-13zM41,-80v88h7v-6h38v5h7v-87zM48,-5v-68h38v68z"/><path id="u96e8" d="M21,-40l6,4l7,4l5,4l4-5l-5-4l-6-3l-6-4zM20,-20l7,4l6,4l5,4l5-4l-5-4l-7-5l-6-3zM57,-40l7,4l6,4l5,4l5-5l-6-4l-6-4l-7-3zM56,-21l6,5l7,4l5,4l5-5l-6-4l-6-4l-7-4zM5,-78v8h41v13h-36v65h7v-58h29v57h7v-57h30v48l-2,2l-6,1l-9-1l3,7h10l7-1l4-8v-55h-37v-13h42v-8z"/><path id="u82a6" d="M44,-64l5,8h-32v19l-1,10l-1,10l-4,11l-7,9l6,5l6-8l4-9l3-9l1-10h55v7h7v-35h-29l-6-10zM79,-34h-55v-3v-13h55zM64,-84v8h-28v-8h-7v8h-23v7h23v8h7v-8h28v8h7v-8h23v-7h-23v-8z"/><path id="u837b" d="M47,-48l-2,6l-2,6l-2,6l-3,5l6,3l3-6l3-5l2-7l1-6zM86,-48l-2,5l-3,6l-3,6l-3,5l7,2l3-5l3-5l3-6l3-6zM31,-58l-7,9l-5-5l-5-4l-6,4l7,5l4,5l-7,5l-7,5l5,5l7-4l6-5l3,8l-5,5l-5,5l-6,4l-5,3l5,6l5-4l6-5l5-5v1v9l-1,6l-2,5l-3,1h-11l3,7l11-1l5-2l3-4l1-6l1-7v-7v-7l-1-6l-1-6l-3-6l5-6l5-6zM63,-84v8h-27v-8h-7v8h-23v7h23v8h7v-8h27v8h8v-8h23v-7h-23v-8zM62,-57v15l-1,11l-3,11l-8,12l-14,10l4,6l10-6l8-7l5-8l3-8l5,9l6,7l8,7l8,5l4-6l-10-6l-7-8l-7-9l-4-10l1-10v-15z"/><path id="u66fe" d="M25,-61l6,7l4,7l5-3l-4-7l-6-7zM69,-63l-5,7l-5,6l5,3l5-6l5-8zM21,-65h25v20h-25zM53,-65h27v20h-27zM67,-85l-4,7l-5,7h-24l6-3l-4-5l-4-5l-7,2l5,6l3,5h-20v32h75v-32h-22l5-5l4-6zM27,-12h47v9h-47zM27,-18v-9h47v9zM20,-33v41h7v-5h47v5h8v-41z"/><path id="u4e16" d="M46,-84v25h-18v-22h-8v22h-15v7h15v54h72v-8h-64v-46h18v32h34v-32h15v-7h-15v-23h-8v23h-19v-25zM72,-52v25h-19v-25z"/><path id="u5f3a" d="M52,-72h29v12h-29zM45,-79v25h18v9h-20v27h20v15l-25,1l1,8l11-1l11-1l13-1l13-1l3,7l6-3l-2-5l-3-6l-3-6l-4-5l-6,3l6,8l-14,1v-14h21v-27h-21v-9h18v-25zM49,-38h14v14h-14zM70,-38h14v14h-14zM8,-56v7l-1,8l-1,8l-1,6h4h20l-1,12l-1,7l-1,5l-2,3l-3,1l-11-1l2,7h12l6-3l2-3l2-7l1-10l1-14v-4h-23l1-7l1-9h22v-29h-31v7h24v16z"/><path id="u539f" d="M37,-40h42v9h-42zM37,-55h42v9h-42zM70,-16l5,5l5,5l4,6l4,4l6-4l-4-4l-4-5l-5-6l-5-5zM37,-20l-4,5l-4,5l-4,5l-5,5l6,4l5-5l4-5l5-6l4-6zM13,-78v28v12l-1,14l-3,14l-5,12l6,4l5-13l4-15l1-15v-13v-22h74v-6zM53,-70l-4,9h-19v36h24v25l-2,1h-4h-8l2,7h9l7-1l3-7v-25h25v-36h-29l5-8z"/><path id="u540c" d="M25,-61v6h51v-6zM37,-38h26v19h-26zM30,-44v39h7v-7h33v-32zM9,-79v87h7v-80h68v70l-2,3h-6h-8l2,7h11l6-1l4-9v-77z"/><path id="u5b66" d="M46,-35v7h-40v8h40v19l-2,2h-7h-10l3,7h8l6-1l5-1l5-7v-19h40v-8h-40v-4l6-3l7-3l6-5l5-4l-4-4l-2,1h-49v6h41l-6,4l-6,3l-6,2zM42,-82l5,7l3,8h-22l4-2l-4-7l-6-7l-6,3l5,6l4,7h-17v19h7v-13h70v13h8v-19h-17l5-7l5-7l-8-2l-2,5l-4,5l-4,6h-16l5-2l-3-8l-5-8z"/><path id="u96ea" d="M19,-55v6h22v-6zM17,-43v5h24v-5zM58,-43v5h25v-5zM58,-55v6h23v-6zM8,-67v22h6v-16h32v26h7v-26h33v16h6v-22h-39v-7h33v-6h-73v6h33v7zM16,-31v7h59v8h-56v6h56v8h-60v6h60v4h8v-39z"/><path id="u78a7" d="M58,-55h25v9h-25zM58,-71h25v10h-25zM6,-45v7l9-1l10-1l11-2l11-1v-6l-17,2v-10h14v-6h-14v-9h16v-6h-38v6h15v9h-15v6h15v11zM6,-34v7h24l-5,6l-7,6l-7,5l-8,4l5,6l5-3l5-4l6-4v19h7v-4h46v4h8v-27h-53l7-8h56v-7zM31,-2v-11h46v11zM51,-77v37h39v-37h-17l3-6l-8-1l-2,7z"/><path id="u5f35" d="M44,8l1-1l4-1l7-3l11-4v-7l-17,6v-29h8l7,11l7,11l10,9l10,7l5-7l-7-3l-6-5l-6-5l7-5l7-6l-6-4l-5,5l-7,6l-5-7l-4-7h30v-7h-42v-8h36v-6h-36v-8h36v-5h-36v-8h40v-6h-47v41h-9v7h6v27l-3,6l4,6zM8,-57v7v8v8l-1,6h21l-1,12l-1,8l-1,5l-1,3l-4,1l-12-1l3,8h7h5l7-3l1-4l2-7l1-10l1-15v-4h-21l1-15h20v-29h-29v7h22v15z"/><path id="u5609" d="M24,-49h52v8h-52zM46,-84v7h-40v6h40v6h-33v5h74v-5h-33v-6h40v-6h-40v-7zM60,-28h-23l3-1l-4-7h28l-4,8zM29,-35l4,7h-27v6h87v-6h-25l4-6l-6-2h18v-18h-67v18h16zM24,-22l-1,7h-15v5h13l-4,6l-5,4l-8,3l4,5l7-3l6-4l4-5l3-6h13l-2,11l-3,1l-9-1l1,6h11l5-2l2-3l1-6l2-8v-3h-20l1-7zM55,-17v25h7v-3h20v3h7v-25zM62,-1v-11h20v11z"/><path id="u5bbe" d="M32,-12l-6,4l-6,4l-8,3l-7,3l6,6l7-4l8-4l7-4l7-4zM60,-7l7,4l8,4l8,4l6,3l4-6l-6-3l-8-4l-8-4l-7-3zM43,-82l5,8h-40v21h8v-14h68v14h8v-21h-35l-3-5l-4-5zM6,-21v7h88v-7h-24v-14h17v-7h-58v-8l14-1l13-1l13-2l11-2l-4-6l-11,2l-14,2l-15,2l-14,1v34zM29,-35h34v14h-34z"/><path id="u77f3" d="M7,-76v7h28l-5,13l-7,13l-10,12l-11,10l6,6l6-5l5-6l5-6v40h8v-7h48v7h8v-51h-56l3-6l4-7l2-6l3-7h50v-7zM32,-6v-30h48v30z"/><path id="u5ddd" d="M16,-78v34v12l-2,13l-4,12l-7,11l6,5l8-12l4-13l2-14l1-14v-34zM48,-74v73h7v-73zM81,-79v87h8v-87z"/><path id="u6cb3" d="M3,-50l7,4l6,4l6,3l4-6l-6-3l-6-4l-7-3zM6,2l6,5l5-8l5-8l4-8l5-9l-6-5l-4,9l-5,9l-5,8l-5,7zM8,-77l7,4l6,4l6,3l4-6v2h50v67l-3,3h-4h-7h-9l3,8h10l7-1l5-1l4-3l1-6v-67h8v-8h-65v6l-5-3l-7-4l-7-4zM37,-56v43h7v-7h25v-36zM44,-50h18v23h-18z"/><path id="u5973" d="M67,-52l-3,9l-3,9l-4,7l-5,6l-6-2l-5-3l-6-2l-6-2l3-7l4-7l3-8zM18,-27l7,3l7,3l7,3l7,3l-8,5l-10,4l-11,3l-12,3l4,7l14-3l12-4l10-5l9-6l9,5l9,5l7,4l7,5l6-7l-7-4l-7-5l-9-4l-9-5l5-7l4-8l4-10l2-10h19v-8h-52l2-6l2-6l2-6l2-6l-8-1l-2,6l-2,6l-2,6l-3,7h-27v8h24l-3,7l-3,7l-3,6l-3,5z"/><path id="u795e" d="M16,-81l5,7l4,7l6-4l-4-6l-6-7zM50,-41h14v14h-14zM50,-48v-13h14v13zM85,-41v14h-14v-14zM85,-48h-14v-13h14zM64,-84v16h-21v53h7v-5h14v28h7v-28h14v4h7v-52h-21v-16zM5,-67v7h26l-6,9l-7,9l-7,7l-8,6l3,7l7-5l6-5v40h7v-43l6,6l4,6l5-6l-4-4l-5-5l-5-4l4-6l3-5l3-5l3-6l-4-3h-2z"/><path id="u7231" d="M84,-83l-16,2l-18,2l-20,1h-19l1,6h20l20-1l18-2l16-2zM73,-74l-3,7l-4,8h-11l-2-7l-2-6l-6,2l3,11h-16l-2-6l-2-7l-6,3l4,10h-18v16h7v-10h71v10h6v-16h-20l4-6l4-6zM41,-21h30l-4,4l-5,4l-5,3l-6-3l-6-4l-4-4zM36,-50l-1,8h-19v7h17l-5,11l-6,10l-8,9l-10,6l5,6l8-5l6-6l6-7l5-8l4,5l6,4l5,4l-5,2l-6,2l-6,1l-7,1l4,6l7-1l7-2l7-3l7-2l7,3l8,2l8,2l9,2l4-7l-8-1l-7-1l-7-2l-7-2l5-4l5-4l4-5l3-5l-4-4l-1,1h-39l3-8h45v-7h-43l2-8z"/><path id="u5b9e" d="M54,-11l10,4l9,5l9,5l6,4l5-5l-7-5l-9-5l-10-4l-10-4zM24,-56l6,4l5,4l4,4l5-5l-5-4l-5-4l-6-3zM14,-40l6,4l5,4l5,4l4-6l-4-4l-6-4l-6-3zM9,-73v21h7v-14h67v14h8v-21h-34l-3-6l-4-6l-7,3l5,9zM7,-26v7h36l-5,7l-7,5l-10,5l-13,3l4,7l15-5l11-6l8-7l6-9h42v-7h-40l2-7l1-9l1-9v-10h-8v11l-1,9l-1,8l-2,7z"/><path id="u4e1c" d="M26,-26l-4,7l-4,7l-5,6l-6,5l7,5l5-6l5-7l5-7l4-8zM67,-23l6,6l5,7l5,7l4,6l7-4l-4-6l-5-6l-6-7l-6-6zM8,-71v7h24l-4,7l-3,5l-3,4l-7,8l3,7l11-1h22v32l-2,1h-5h-8l3,8h9l6-1l4-8v-32h29v-7h-29v-15h-7v15h-24l4-5l3-6l4-6l3-6h51v-7h-47l5-10l-8-4l-3,7l-3,7z"/><path id="u65ed" d="M59,-42h23v20h-23zM59,-69h23v19h-23zM52,-76v61h37v-61zM16,-84v21h-11v7h11v8v13l-2,13l-4,13l-7,12l5,5l8-13l5-13l2-15l1-15v-8h10v48l1,7l3,4l5,2h8h6h9h9h5h7l5-3l2-5l2-8l-7-3l-1,8l-3,3l-5,1h-6h-9h-8h-6l-7-1l-2-5v-55h-18v-21z"/><path id="u9e70" d="M19,-6v5h59v-5zM68,-53v4h-14v-4zM43,-37l-4,6h-11v21h59l-1,9l-2,3l-4,1h-4h-8l1,5h8h6l7-2l1-3l1-6l1-10l1-2h-59v-11h9l-3,3l7,3l7,2l5,3l3-5l-5-2l-6-2l-7-2h34l-2,4l-2,1l-8-1l1,5h10l5-2l2-10v-2h-39l2-3h6v-3h39v-4h-18v-4h14v-4h-14v-4h14v-4h-14v-4h16v-4h-16l-3-7l-6,2l2,5h-12l3-5l-6-2l-4,7l-5,6l-6,5l4,5l6-5v18zM68,-57h-14v-4h14zM68,-45v4h-14v-4zM47,-83l3,6h-38v30v12l-2,14l-2,13l-5,12l6,4l5-13l3-14l1-15l1-13v-25h17l-3,6l-4,6l-5,4l-5,4l4,5l7-6v19h6v-26l6-10l-5-2h58v-5h-37l-4-7z"/><path id="u4e03" d="M34,-82v33l-29,5l1,7l28-4v30l1,8l2,4l5,3h8h5h8h8h5l8-1l4-3l3-7l1-11l-7-3l-1,9l-1,5l-3,3l-4,1h-5h-8h-8h-5l-7-1l-1-7v-31l53-9l-1-8l-52,9v-32z"/><path id="u594e" d="M46,-59v9h-18l6-5l5-6l4-5h15l4,6l5,5l5,5h-18v-9zM43,-84l-2,6l-3,5h-32v7h27l-5,6l-7,6l-8,6l-10,4l5,6l7-4l7-4l6-4v6h18v9h-32v6h72v-6h-32v-9h19v-6l6,5l6,3l7,3l5-6l-9-4l-8-4l-8-6l-6-7h28v-7h-47l4-10zM46,-27v8h-28v7h28v11h-38v6h85v-6h-39v-11h29v-7h-29v-8z"/><path id="u4e1b" d="M6,-3v8h89v-8zM27,-83l-1,22l-4,19l-6,16l-10,13l7,6l6-8l5-10l4-10l3-11l4,5l4,6l3,6l3,4l6-5l-4-6l-4-7l-5-7l-5-6l1-7v-6l1-7v-7zM65,-83l-2,23l-5,19l-7,16l-11,13l6,5l8-7l6-9l4-11l4-11l3,10l5,10l6,9l7,8l6-7l-9-9l-7-12l-5-13l-3-12l1-7v-7l1-7z"/><path id="u9611" d="M13,-80l5,5l5,6l3,5l6-4l-4-5l-4-6l-5-5zM9,-64v72h7v-72zM36,-38l4,10l4-2l-4-9zM61,-40l-5,10l4,2l5-10zM36,-80v6h48v72l-3,3h-5h-9l3,6h10l7-1l4-8v-78zM33,-42h14v16h-14zM54,-42h14v16h-14zM47,-66v6h-23v6h23v7h-20v26h17l-5,5l-5,5l-6,4l-6,3l4,5l6-3l5-4l5-5l5-5v21h7v-23l6,6l6,5l4,5l5-4l-5-5l-5-5l-7-5h15v-26h-19v-7h22v-6h-22v-6z"/><path id="u7070" d="M42,-48l-2,7l-2,8l-3,6l6,3l3-7l2-7l2-7zM81,-48l-3,6l-4,7l-3,5l6,4l3-6l4-7l3-6zM29,-84v6l-1,6h-21v8h20l-3,17l-4,15l-7,13l-9,11l6,6l10-12l7-15l5-16l3-19h57v-8h-56l1-12zM58,-60l-1,20l-4,17l-10,15l-17,10l5,6l11-6l9-7l6-9l4-9l5,9l7,9l8,7l8,5l5-6l-10-6l-8-8l-7-10l-6-11l1-6l1-6v-7l1-7z"/><path id="u559c" d="M27,-48h46v8h-46zM18,-16v24h7v-3h50v3h8v-24zM25,-1v-10h50v10zM46,-84v7h-38v6h38v7h-31v5h71v-5h-32v-7h38v-6h-38v-7zM20,-54v19h10l-3,1l3,6h-25v6h90v-6h-26l5-7h-2h9v-19zM38,-28l-4-7h31l-3,7z"/><path id="u6b22" d="M5,-55l5,6l4,7l5,6l4,7l-4,8l-5,6l-6,6l-6,5l6,5l5-4l5-6l5-6l5-7l4,8l3,7l6-5l-3-5l-3-6l-3-7l3-9l3-10l3-11l2-11l-5-2l-1,1h-32v6h30l-1,8l-2,8l-3,7l-2,6l-4-5l-4-6l-4-6l-4-5zM55,-84l-2,11l-3,10l-3,9l-4,8l6,4l3-6l3-7l3-7h28l-2,8l-2,6l6,2l2-6l3-8l2-8l-5-1h-2h-29l2-7l1-7zM63,-56v7v12l-4,14l-8,13l-15,13l5,5l10-8l8-8l5-9l4-9l4,11l5,10l7,7l8,6l5-6l-10-7l-8-10l-5-13l-4-14v-7v-7z"/><path id="u5403" d="M8,-75v66h7v-8h19v-58zM15,-68h12v44h-12zM53,-84l-3,10l-4,8l-5,9l-5,6l6,5l4-4l3-6l3-6h43v-7h-39l2-6l3-7zM47,-48v7h26l-18,16l-10,11l-4,6l-1,4l2,6l5,3l9,1h28h5l4-3l2-6l2-10l-7-3l-1,10l-2,4l-3,1h-28l-8-4l1-3l5-6l12-11l22-19l2-1l-6-3h-1z"/><path id="u5199" d="M8,-79v20h7v-13h69v13h8v-20zM9,-21v7h57v-7zM30,-70l-2,10l-2,10l-2,10l-2,8h52l-1,13l-2,9l-1,6l-2,3l-5,1h-7l-9-1l2,7l9,1h7l9-3l2-5l3-7l2-11l1-16l1-4h-52l3-12h46v-7h-45l3-11z"/><path id="u624b" d="M5,-32v7h41v23l-3,2h-4h-6h-8l3,8h9l7-1l5-1l4-3l1-5v-23h41v-7h-41v-16h36v-8h-36v-16l9-1l8-1l7-2l7-2l-5-6l-14,3l-17,3l-19,2l-18,1l1,6h8l9-1h8l8-1v15h-34v8h34v16z"/><path id="u7f42" d="M10,-80v29h6v-24h24v24h6v-29zM54,-80v29h6v-24h24v24h6v-29zM26,-70l-2,11l-3,8l-6,6l-11,3l3,5l8-2l5-3l4-4l3-4l6,4l6,4l5,4l3-5l-4-4l-6-4l-7-3l-2,4l2-6l1-7l1-7zM26,-42l-3,6l-5,5l-4,5l5,4l6-7h21v9h-42v6h42v12h-25v-9h-7v15h66v4h7v-19h-7v9h-26v-12h42v-6h-42v-9h30v-6h-55l3-5zM70,-70l-2,11l-2,8l-6,5l-10,4l3,4l8-2l6-4l4-6l8,5l7,4l5,5l4-5l-6-4l-7-5l-8-4l-3,4l3-5l1-7l1-8z"/><path id="u83f2" d="M63,-84v7h-26v-7h-8v7h-23v7h23v7h8v-7h26v7h7v-7h24v-7h-24v-7zM58,-61v69h7v-18h31v-7h-31v-12h26v-6h-26v-11h28v-7h-28v-8zM4,-17v7h31v18h8v-69h-8v8h-28v7h28v11h-25v6h25v12z"/><path id="u65c5" d="M19,-82l3,7l2,7l7-2l-2-7l-4-7zM56,-84l-2,9l-4,8l-4,7l-5,7l6,4l5-7l5-8h38v-7h-35l2-6l2-6zM87,-61l-8,3l-8,3l-10,3l-10,2v43l-3,9l3,5l2-1l4-2l6-3l11-5l-1-7l-15,7v-41l9-3l4,18l4,15l7,12l9,9l5-6l-5-4l-5-6l-4-8l-3-8l5-4l6-4l5-5l-6-5l-5,6l-7,6l-2-8l-1-9l6-2l7-2l6-3zM5,-67v7h11v15v11l-2,13l-4,12l-7,12l6,5l7-12l4-12l2-12l1-12h11v17l-1,12l-1,7l-1,3l-3,1h-8l2,7h9l6-3l2-5l1-8v-14l1-21v-3h-18v-13h21v-7z"/><path id="u6e38" d="M8,-78l5,4l6,4l4,3l5-6l-5-3l-5-3l-6-4zM4,-51l6,4l6,3l4,3l5-6l-5-3l-6-3l-6-3zM6,3l6,4l3-8l3-8l3-8l3-9l-6-3l-3,8l-3,9l-3,8l-3,7zM75,-39v10h-15v7h15v22l-2,1h-11l3,7h8l6-1l3-7v-22h14v-7h-14v-7l5-4l5-5l4-5l-5-3h-1h-25l5-11h26v-7h-24l2-6l1-6l-7-1l-2,9l-2,8l-3,7l-4,6l6,4l2-2v6h19l-9,7zM26,-68v7h9l-1,19l-2,17l-4,16l-8,12l5,5l7-10l5-11l2-13l2-14h10l-1,18v11l-1,7l-1,3l-3,1h-9l2,7h10l6-3l1-5l1-8l1-14l1-20v-3h-17l1-8v-7h19v-7zM34,-81l5,7l4,6l7-3l-4-7l-5-6z"/><path id="u660c" d="M28,-59h44v9h-44zM28,-74h44v9h-44zM20,-80v36h60v-36zM20,-13h60v10h-60zM20,-20v-9h60v9zM12,-36v44h8v-5h60v5h8v-44z"/><path id="u6c5f" d="M10,-77l6,3l6,5l6,4l4-6l-5-4l-7-4l-6-4zM4,-50l7,4l6,3l6,4l4-6l-6-4l-6-3l-7-3zM8,2l6,5l4-8l5-8l5-8l4-9l-5-5l-5,9l-5,9l-5,8l-4,7zM33,-6v8h63v-8h-29v-61h23v-8h-53v8h22v61z"/><path id="u91ca" d="M6,-67l4,8l3,7l5-2l-3-7l-4-7zM38,-70l-3,8l-4,8l5,1l4-7l4-8zM46,-79v7h5l4,6l4,6l5,6l-5,3l-6,3l-6,2l-6,2v-4h-13v-26l8-2l8-1l-4-6l-8,2l-9,1l-9,1l-10,1l2,6l8-1h8v25h-17v7h15l-3,7l-4,8l-5,7l-5,5l4,7l4-4l4-6l3-7l4-7v39h6v-40l6,6l5,6l4-5l-4-5l-6-6l-5-4v-1h13v-3l4,6l6-2l7-3l6-3l6-4l5,4l6,3l6,3l7,2l4-6l-6-2l-6-2l-6-3l-5-3l6-5l5-5l5-6l3-7l-4-2h-2zM84,-72l-4,5l-5,5l-5,4l-5-4l-4-5l-3-5zM66,-41v9h-19v7h19v10h-23v7h23v16h7v-16h22v-7h-22v-10h18v-7h-18v-9z"/><path id="u5927" d="M46,-84v6v7l-1,8v8h-39v7h37l-4,15l-7,13l-12,12l-16,10l6,6l16-10l11-12l8-14l5-14l7,16l9,14l11,11l13,9l6-7l-14-8l-11-11l-8-14l-7-16h38v-7h-41v-8l1-7v-7v-7z"/><path id="u767d" d="M45,-84l-3,8l-3,8h-25v76h8v-7h56v7h8v-76h-39l4-7l3-8zM22,-7v-23h56v23zM22,-38v-22h56v22z"/><path id="u65e9" d="M23,-56h54v11h-54zM23,-73h54v11h-54zM5,-23v7h41v24h8v-24h42v-7h-42v-15h30v-41h-69v41h31v15z"/><path id="u8336" d="M28,-20l-4,6l-5,5l-5,5l-6,4l6,4l6-4l6-5l5-6l4-7zM63,-16l6,5l6,5l5,5l4,5l7-4l-5-5l-5-5l-6-5l-6-5zM46,-44v13h-28v7h28v24l-1,1h-11l2,7h9l5-1l4-7v-24h28v-7h-28v-13zM65,-84v10h-30v-10h-8v10h-21v7h21v9h8v-9h30v9h7v-9h22v-7h-22v-10zM49,-65l-8,9l-10,8l-13,7l-14,5l5,7l12-5l11-6l10-7l8-8l9,8l11,7l11,6l11,4l5-6l-12-4l-11-6l-11-7l-9-7l2-2z"/><path id="u5149" d="M14,-77l4,7l3,6l3,7l2,5l7-2l-2-6l-3-6l-4-7l-3-6zM80,-80l-3,6l-3,7l-4,7l-3,6l6,2l4-5l3-7l4-7l3-6zM46,-84v38h-40v7h26l-2,14l-4,11l-8,9l-15,7l5,6l15-8l10-10l5-13l2-16h19v36l1,6l3,4l7,1h7h8l5-1l3-3l2-7l1-10l-7-3l-1,11l-1,5l-3,1h-7h-6l-5-4v-36h29v-7h-41v-38z"/><path id="u96c0" d="M29,-79l-4,6l-4,6l-5,5l-6,4l6,5l6-5l5-6l5-6l4-7zM67,-76l6,5l5,5l5,6l4,4l7-4l-4-5l-6-5l-5-5l-6-5zM46,-84v30l-10,4l-10,3l-11,3l-11,3l4,6l8-2l7-2v47h7v-4h63v-6h-29v-8h23v-5h-23v-8h23v-5h-23v-9h28v-6h-26l-7-9l-6,2l5,7h-22l11-4l11-6l9-6l9-7l-7-4l-4,4l-6,4l-6,4v-26zM57,-37v9h-27v-9zM30,-23h27v8h-27zM30,-10h27v8h-27z"/><path id="u5b89" d="M41,-82l5,10h-37v20h8v-13h66v13h8v-20h-36l-3-6l-3-6zM66,-38l-3,6l-3,5l-4,5l-4,4l-7-3l-7-2l-7-3l4-5l4-7zM30,-38l-4,6l-3,5l-4,5l7,2l6,2l7,3l7,3l-8,4l-9,4l-10,3l-11,2l5,7l12-3l10-4l10-5l9-5l9,4l8,4l8,4l6,4l6-6l-6-4l-8-4l-8-4l-9-4l4-5l4-5l3-6l3-7h20v-7h-51l4-7l3-8l-8-1l-2,5l-3,6l-3,5h-27v7z"/><path id="u77e5" d="M55,-75v80h7v-8h21v7h8v-79zM62,-10v-58h21v58zM16,-84l-2,9l-3,9l-4,7l-4,7l6,4l5-7l4-9h7v17v3h-21v8h21l-2,10l-4,10l-6,9l-10,9l6,6l7-7l6-7l4-8l3-8l5,5l4,6l5,5l3,5l5-7l-4-4l-5-6l-6-7l-5-5l1-6h20v-8h-19v-3v-17h16v-7h-29l2-6l1-6z"/><path id="u5450" d="M8,-75v66h6v-8h19v-58zM14,-68h12v44h-12zM85,-55v36l-3-6l-4-7l-4-7l-5-7l2-9zM64,-84v14v8h-23v70h7v-24l5,4l5-6l4-6l3-6l2-7l4,6l3,6l3,6l3,5l5-4v16l-2,2h-4h-9l3,7h10l6-1l3-8v-60h-21v-8v-14zM48,-17v-38h15l-1,10l-3,9l-4,10l-7,9z"/><path id="u5206" d="M67,-82l-7,3l7,11l7,11l8,10l8,8l6-7l-8-7l-8-9l-7-10l-6-10zM32,-82l-5,11l-6,10l-8,9l-9,8l7,6l8-8v7h19l-3,13l-5,11l-9,10l-15,7l5,6l16-8l10-11l6-13l3-15h27l-1,16l-1,11l-1,7l-2,4l-4,1h-6l-9-1l2,8h9h7l8-4l2-4l2-9l1-13l1-20v-3h-62l6-7l6-9l5-8l4-10z"/><path id="u949f" d="M65,-56v24h-13v-24zM73,-56h13v24h-13zM65,-84v21h-20v45h7v-6h13v32h8v-32h13v5h8v-44h-21v-21zM18,-84l-3,7l-3,7l-4,6l-4,4l4,8l5-7l4-7h25v-6h-21l4-10zM6,-34v6h14v21l-5,9l4,5l2-1l3-2l7-4l12-6l-2-6l-13,6v-22h14v-6h-14v-14h11v-7h-28v7h9v14z"/><path id="u59d1" d="M47,-34v42h8v-5h29v4h8v-41h-19v-21h23v-7h-23v-22h-8v22h-22v7h22v21zM55,-4v-23h29v23zM32,-56l-2,9l-1,9l-2,8l-3,7l-5-4l-5-5l1-5l1-6l2-7l1-6zM6,-29l5,4l5,5l5,4l-4,6l-4,5l-4,4l-5,3l4,6l6-4l4-4l4-5l4-5l5,6l4,5l5-6l-4-6l-6-6l3-9l3-11l2-12l1-14l-5-1h-1h-13l2-6l1-7v-6l-7-1l-1,7l-1,7l-1,6h-8v8h7l-2,7l-1,7l-2,7l-1,6z"/><path id="u5a18" d="M82,-49v11h-31v-11zM82,-56h-31v-10h31zM43,8l2-1l4-2l7-2l12-4l-1-7l-16,5v-28h10l5,12l7,11l8,8l10,6l5-6l-6-3l-6-5l-6-5l6-3l5-4l5-4l-5-4l-7,5l-8,5l-3-6l-3-7h21v-42h-18l-2-6l-3-6l-7,2l5,10h-20v67l-4,9l3,5zM30,-56l-2,9l-1,9l-2,8l-2,8l-9-8l2-6l1-6l2-7l1-7zM6,-28l5,4l4,4l5,4l-4,6l-3,5l-5,4l-4,3l4,6l5-4l5-4l4-5l3-5l5,5l3,4l5-5l-4-6l-6-5l3-10l3-10l2-12l1-14l-5-1l-1,1h-9l1-7l1-7l1-7h-7l-1,7l-1,6l-2,8h-9v7h8l-1,8l-2,7l-2,7l-2,6z"/><path id="u800c" d="M5,-79v8h39l-1,7l-2,7h-31v65h8v-58h16v55h7v-55h17v55h7v-55h17v49l-2,1l-4,1l-8-1l3,8l9-1l6-1l4-7v-56h-41l2-7l2-7h42v-8z"/><path id="u4e0a" d="M43,-82v78h-38v7h90v-7h-44v-40h37v-8h-37v-30z"/><path id="u554a" d="M34,-80v88h6v-82h9l-1,6l-1,6l-2,7l-2,6l5,9l2,7l1,6l-2,8l-2,1l-5-1l2,6h5l5-1l2-6l1-7v-5l-2-5l-2-6l-4-6l2-8l2-7l2-8l2-6l-5-2h-1zM7,-76v67h6v-10h15v-57zM13,-69h9v43h-9zM58,-79v7h27v70l-2,2h-5h-7l2,7h9l6-1l3-8v-70h5v-7zM65,-26v-28h8v28zM60,-61v49h5v-7h14v-42z"/><path id="u4e91" d="M16,-76v8h68v-8zM14,4l4-1l9-1l19-2l33-2l3,5l3,5l7-4l-4-8l-6-9l-7-9l-6-9l-7,3l4,6l4,6l5,7l-51,3l6-7l6-9l6-9l5-9h47v-8h-88v8h31l-5,9l-5,9l-5,6l-3,5l-8,7l3,8z"/><path id="u5f71" d="M84,-82l-5,6l-6,6l-7,5l-7,4l6,6l7-5l7-6l6-6l6-7zM87,-55l-5,6l-7,7l-8,5l-8,5l5,5l9-5l8-6l7-7l6-7zM89,-26l-6,8l-8,8l-9,6l-10,6l6,5l10-5l9-8l8-8l7-9zM19,-30h28v8h-28zM42,-12l5,8l4,7l5-3l-4-7l-5-7zM18,-64h30v6h-30zM18,-75h30v6h-30zM11,-80v27h45v-27zM15,-14l-4,7l-5,7l5,4l4-5l4-5l3-6zM27,-51l2,4h-23v6h53v-6h-22l-3-6zM12,-36v20h17v16l-1,1h-9l3,7l7-1l4-1l4-6v-16h18v-20z"/><path id="u4ed9" d="M26,-84l-4,11l-6,11l-6,10l-7,8l4,8l5-6l4-6v56h8v-68l3-7l4-7l3-8zM36,-61v63h48v6h8v-69h-8v56h-17v-77h-7v77h-16v-56z"/><path id="u5357" d="M32,-46l3,6l3,6l6-2l-3-6l-3-6zM46,-84v10h-40v7h40v11h-35v64h8v-57h62v48l-2,2l-5,1l-9-1l2,7h11l6-1l5-8v-55h-35v-11h40v-7h-40v-10zM62,-48l-3,7l-4,7h-28v6h19v10h-22v7h22v17h7v-17h23v-7h-23v-10h21v-6h-12l3-6l4-6z"/><path id="u97e9" d="M14,-39h21v7h-21zM14,-52h21v7h-21zM65,-84v14h-18v7h18v11h-16v7h16v11h-19v7h19v35h7v-35h17l-1,10l-1,6l-1,3l-3,1l-7-1l2,7h8l5-3l2-2l1-5l1-8l1-12v-3h-24v-11h18v-7h-18v-11h22v-7h-22v-14zM4,-17v7h17v18h7v-18h17v-7h-17v-9h14v-32h-14v-9h16v-7h-16v-10h-7v10h-16v7h16v9h-13v32h13v9z"/></defs>
<g class="g"><path d="M54,506.5H1166"/><path d="M54,424.5H1166"/><path d="M54,343.5H1166"/><path d="M54,262.5H1166"/><path d="M54,180.5H1166"/><path d="M54,99.5H1166"/><path d="M54,17.5H1166"/></g>
<path fill="#1f77b4" shape-rendering="crispEdges" d="M54,588.0V28H55V352.5H56V335H57V464.5H58V397H59V516.5H60V447.5H61V527H62V417.5H63V339H64V459.5H65V301.5H66V427H67V464H68V443H69V439H70V472H71V436H72V392H73V365.5H74V110H75V303H76V455.5H77V374H78V441H79V281H80V394H81V493H82V505H83V409H84V224H85V409H86V401H87V464.5H88V462.5H89V301.5H90V324H91V324H92V447H93V491H94V74H95V525H96V500.5H97V526H98V527.5H99V119H100V459H101V414H102V436.5H103V405H104V399H105V480H106V471.5H107V471.5H108V381H109V361H110V489.5H111V315H112V429H113V82H114V461.5H115V526H116V312.5H117V497H118V446H119V352H120V426H121V426H122V471H123V187.5H124V479H125V489H126V478H127V305H128V537H129V461H130V534H131V256H132V504H133V504H134V420H135V287H136V322.5H137V374H138V508H139V181H140V498.5H141V500H142V471H143V465H144V394H145V366.5H146V465H147V460H148V476H149V390H150V514H151V417H152V465H153V512H154V454H155V496H156V483H157V385H158V521H159V428H160V471H161V464H162V247.5H163V387H164V504H165V503H166V441H167V441.5H168V91H169V436H170V511H171V505H172V406.5H173V435H174V483H175V506H176V472H177V201.5H178V387H179V388H180V441H181V490H182V429H183V491.5H184V497H185V508H186V430.5H187V497H188V480.5H189V398H190V299H191V451H192V479H193V505.5H194V386.5H195V512.5H196V260.5H197V360.5H198V504H199V480.5H200V476H201V406H202V519H203V417.5H204V402H205V508H206V410H207V515H208V453H209V471H210V503H211V500H212V429H213V493H214V483H215V473.5H216V463H217V519H218V532H219V441H220V515H221V302H222V293H223V415H224V455.5H225V460H226V415H227V482.5H228V469.5H229V431H230V518H231V466.5H232V412.5H233V500H234V344H235V521H236V497H237V521H238V338H239V485H240V466H241V483H242V422H243V473.5H244V472H245V545H246V356H247V371H248V535H249V514H250V522H251V72.5H252V514H253V432H254V503H255V511H256V491.5H257V511H258V473H259V497H260V496H261V529H262V505.5H263V446H264V503H265V327.5H266V487.5H267V362H268V530H269V472H270V371H271V494.5H272V494H273V469.5H274V435H275V437.5H276V479H277V407H278V415H279V280H280V508H281V469.5H282V493H283V455.5H284V469H285V329H286V430.5H287V372H288V306.5H289V478H290V505.5H291V466.5H292V426H293V408H294V473.5H295V442H296V462.5H297V486H298V468H299V403H300V293H301V429H302V504H303V526H304V508H305V508H306V436H307V437H308V490H309V198H310V448.5H311V508H312V437.5H313V438H314V516.5H315V314H316V521H317V494.5H318V466.5H319V507H320V503H321V383H322V383H323V494.5H324V514H325V487.5H326V456H327V530H328V547H329V511H330V500H331V500H332V536H333V491H334V491.5H335V493H336V505.5H337V412H338V528H339V467H340V537H341V483H342V530H343V519.5H344V396H345V377.5H346V483H347V430H348V507H349V524H350V469H351V472H352V520H353V493.5H354V520.5H355V538H356V513.5H357V525H358V511H359V462H360V538H361V547.5H362V557.5H363V530H364V546H365V535H366V435H367V516.5H368V440.5H369V508H370V476H371V476H372V450H373V524H374V537H375V498H376V436H377V465H378V528.5H379V460H380V522H381V501H382V467.5H383V510.5H384V508.5H385V414H386V357H387V454H388V508H389V422.5H390V532H391V511.5H392V504.5H393V498H394V533.5H395V357H396V509H397V540H398V508H399V507H400V529H401V443H402V497H403V474H404V533.5H405V527.5H406V448H407V550.5H408V523.5H409V508.5H410V479H411V548.5H412V499.5H413V501.5H414V522H415V551H416V507H417V501H418V299H419V498H420V452H421V339H422V507.5H423V537.5H424V545.5H425V467.5H426V520.5H427V464H428V476H429V500.5H430V544H431V522H432V529.5H433V444.5H434V526H435V434H436V480H437V536H438V522.5H439V550.5H440V555H441V392H442V529H443V547.5H444V530.5H445V298H446V532.5H447V514.5H448V528.5H449V528.5H450V434H451V560H452V324H453V551H454V482.5H455V490.5H456V495.5H457V529.5H458V492.5H459V444H460V381H461V352.5H462V434H463V506H464V351.5H465V514.5H466V462.5H467V523.5H468V421H469V504.5H470V504.5H471V497.5H472V532.5H473V474H474V531.5H475V461H476V471H477V534H478V527.5H479V510H480V512.5H481V329H482V516.5H483V537H484V498.5H485V505H486V498H487V504H488V535H489V524.5H490V519.5H491V234H492V552H493V508H494V512.5H495V549.5H496V550.5H497V508.5H498V549.5H499V435H500V535.5H501V506H502V484H503V498H504V535.5H505V536H506V464H507V545.5H508V514H509V294H510V517.5H511V473H512V482H513V495H514V513.5H515V561H516V477.5H517V544.5H518V421H519V501.5H520V442H521V516.5H522V518H523V510H524V449H525V454H526V442H527V532H528V472H529V499.5H530V475H531V520.5H532V529.5H533V523.5H534V441H535V506.5H536V519.5H537V557.5H538V492H539V537H540V502H541V485H542V510H543V490H544V510H545V529.5H546V439.5H547V529H548V529H549V475H550V511H551V549H552V545H553V547H554V421H555V513.5H556V520.5H557V511H558V390H559V544H560V497H561V518.5H562V525H563V525H564V530H565V503.5H566V325H567V331H568V496H569V530.5H570V512.5H571V526.5H572V508H573V519.5H574V501.5H575V552H576V535H577V306H578V538H579V492.5H580V504H581V545H582V514.5H583V516.5H584V528H585V504H586V514.5H587V514.5H588V550.5H589V499.5H590V502.5H591V529H592V542H593V504H594V507H595V497H596V470H597V444H598V392.5H599V496.5H600V506H601V507.5H602V529H603V500H604V524.5H605V464H606V534H607V525.5H608V440H609V548H610V515.5H611V388H612V542H613V316.5H614V555H615V530H616V416H617V500.5H618V549.5H619V399H620V521H621V507H622V532.5H623V516H624V544.5H625V557H626V495.5H627V505H628V527H629V465H630V570H631V530H632V477.5H633V479H634V537.5H635V475H636V451H637V516.5H638V515.5H639V501H640V522H641V544H642V506.5H643V507H644V550.5H645V506.5H646V516H647V400.5H648V519.5H649V558.5H650V528H651V527H652V492.5H653V536H654V515.5H655V475H656V533.5H657V455.5H658V502H659V499.5H660V431H661V455H662V479.5H663V527H664V492H665V551.5H666V530H667V501H668V296.5H669V511H670V558H671V496H672V517H673V521H674V557.5H675V505H676V537.5H677V522H678V484.5H679V484.5H680V537H681V564H682V502.5H683V550H684V556.5H685V417H686V511.5H687V491H688V514.5H689V527.5H690V495H691V540.5H692V506.5H693V526H694V515.5H695V461H696V523H697V520H698V528.5H699V499.5H700V390.5H701V507.5H702V516.5H703V447.5H704V529.5H705V531H706V539H707V507.5H708V534.5H709V565.5H710V525H711V485H712V457.5H713V538.5H714V555H715V536.5H716V518H717V551.5H718V485H719V556H720V424H721V451H722V476H723V487.5H724V541.5H725V489.5H726V562.5H727V530.5H728V488.5H729V564.5H730V544H731V533.5H732V514H733V535.5H734V554.5H735V480H736V454.5H737V516H738V503.5H739V475H740V504H741V370.5H742V511.5H743V514H744V533.5H745V537H746V537.5H747V550H748V475H749V498.5H750V516H751V318H752V518H753V556H754V466H755V534.5H756V331H757V177.5H758V520.5H759V501.5H760V530H761V531H762V531.5H763V523.5H764V504.5H765V527.5H766V528.5H767V557.5H768V565H769V519H770V503.5H771V562H772V522.5H773V537H774V516H775V535.5H776V516.5H777V494.5H778V500.5H779V487.5H780V454H781V518.5H782V543.5H783V558.5H784V272H785V492H786V543.5H787V515.5H788V540.5H789V546.5H790V523.5H791V531H792V557.5H793V561.5H794V474H795V524H796V521.5H797V541.5H798V539.5H799V506H800V504.5H801V523H802V516.5H803V541.5H804V541.5H805V476.5H806V523H807V503H808V549.5H809V520H810V538.5H811V542.5H812V424.5H813V523H814V537.5H815V509H816V520.5H817V508.5H818V478H819V515.5H820V537H821V453H822V500H823V418H824V521H825V416H826V525H827V546.5H828V523H829V514H830V538.5H831V557H832V545.5H833V532.5H834V527.5H835V519.5H836V527H837V526H838V563.5H839V477H840V499.5H841V538H842V546H843V547H844V558H845V486H846V511H847V552.5H848V501H849V472H850V512.5H851V519.5H852V473H853V518H854V443H855V531.5H856V507.5H857V536H858V457H859V550.5H860V379H861V504.5H862V488.5H863V558.5H864V549H865V517.5H866V518.5H867V549.5H868V551.5H869V511.5H870V515.5H871V535H872V452H873V482.5H874V532H875V531H876V450H877V518H878V544H879V515H880V532.5H881V499.5H882V524.5H883V523.5H884V508H885V528.5H886V533.5H887V547.5H888V491H889V539.5H890V540H891V513.5H892V531.5H893V518H894V476H895V496H896V554H897V436H898V555.5H899V426H900V401H901V533H902V537H903V497.5H904V543.5H905V552.5H906V518.5H907V551H908V505H909V536.5H910V538H911V450H912V558.5H913V525H914V430.5H915V490H916V532.5H917V431H918V504.5H919V530H920V508.5H921V530.5H922V520H923V535H924V479H925V548H926V492H927V490.5H928V539H929V423.5H930V540H931V514H932V518H933V555H934V541H935V544H936V492.5H937V504H938V537.5H939V538.5H940V460H941V542H942V392H943V392H944V541.5H945V504.5H946V567.5H947V520.5H948V496.5H949V553.5H950V474H951V490H952V528.5H953V561.5H954V552H955V531H956V481.5H957V517H958V523.5H959V537H960V503.5H961V536.5H962V538.5H963V511H964V508H965V552.5H966V513H967V497.5H968V557H969V430H970V486H971V538H972V530H973V510H974V541H975V539.5H976V517H977V530H978V407.5H979V475H980V499H981V552H982V469H983V504.5H984V545H985V547H986V529.5H987V478H988V530H989V427H990V536.5H991V541H992V521H993V548H994V553.5H995V549.5H996V511.5H997V560H998V557H999V534.5H1000V543H1001V533.5H1002V535H1003V253H1004V526.5H1005V551H1006V525H1007V524.5H1008V547.5H1009V558H1010V514.5H1011V529.5H1012V387.5H1013V519.5H1014V554H1015V520.5H1016V531H1017V549H1018V558.5H1019V534H1020V550.5H1021V460H1022V466H1023V507H1024V467.5H1025V511.5H1026V547H1027V569H1028V530H1029V537.5H1030V501H1031V492.5H1032V551.5H1033V553.5H1034V493.5H1035V545.5H1036V506H1037V184H1038V527H1039V548.5H1040V556.5H1041V549.5H1042V490H1043V548H1044V535H1045V542H1046V526.5H1047V538.5H1048V517.5H1049V565H1050V502H1051V558H1052V536H1053V493H1054V556.5H1055V561H1056V513H1057V485H1058V524.5H1059V495.5H1060V540.5H1061V434H1062V563H1063V554H1064V537.5H1065V521H1066V440H1067V525H1068V524H1069V524.5H1070V524.5H1071V530H1072V543H1073V539H1074V562.5H1075V551.5H1076V552H1077V530H1078V524.5H1079V542.5H1080V460H1081V537H1082V527.5H1083V556H1084V331H1085V512H1086V549H1087V492.5H1088V555.5H1089V546H1090V537H1091V541.5H1092V381H1093V562H1094V535H1095V563H1096V500.5H1097V561H1098V555H1099V505.5H1100V528.5H1101V503.5H1102V563.5H1103V506H1104V562.5H1105V494.5H1106V557.5H1107V535H1108V519.5H1109V514.5H1110V553.5H1111V549.5H1112V530H1113V499.5H1114V403H1115V563H1116V551H1117V555.5H1118V523.5H1119V510H1120V550.5H1121V508.5H1122V499H1123V529.5H1124V525.5H1125V542.5H1126V534H1127V529.5H1128V506.5H1129V548H1130V524H1131V461.5H1132V476H1133V551.5H1134V495H1135V568H1136V524H1137V512H1138V563.5H1139V545.5H1140V521H1141V472H1142V357H1143V534H1144V559.5H1145V564H1146V542.5H1147V524H1148V461H1149V528H1150V522H1151V555H1152V519.5H1153V559H1154V469H1155V514.5H1156V524.5H1157V538.5H1158V546.5H1159V509H1160V399.5H1161V514H1162V543.5H1163V464H1164V527.5H1165V531H1166V588.0Z"/>
<path fill="#3a6f96" shape-rendering="crispEdges" d="M54,28h1V352.5h-1zM56,335h1V352.5h-1zM58,397h1V464.5h-1zM60,447.5h1V516.5h-1zM63,339h1V417.5h-1zM65,301.5h1V427h-1zM69,439h1V443h-1zM74,110h1V303h-1zM77,374h1V441h-1zM79,281h1V394h-1zM84,224h1V409h-1zM86,401h1V409h-1zM89,301.5h1V324h-1zM94,74h1V491h-1zM96,500.5h1V525h-1zM99,119h1V459h-1zM101,414h1V436.5h-1zM104,399h1V405h-1zM109,361h1V381h-1zM111,315h1V429h-1zM113,82h1V429h-1zM116,312.5h1V497h-1zM119,352h1V426h-1zM123,187.5h1V471h-1zM127,305h1V478h-1zM129,461h1V534h-1zM131,256h1V504h-1zM135,287h1V322.5h-1zM139,181h1V498.5h-1zM145,366.5h1V394h-1zM147,460h1V465h-1zM149,390h1V476h-1zM151,417h1V465h-1zM154,454h1V496h-1zM157,385h1V483h-1zM159,428h1V471h-1zM162,247.5h1V387h-1zM168,91h1V436h-1zM172,406.5h1V435h-1zM177,201.5h1V387h-1zM182,429h1V490h-1zM186,430.5h1V497h-1zM190,299h1V398h-1zM194,386.5h1V505.5h-1zM196,260.5h1V360.5h-1zM201,406h1V476h-1zM204,402h1V417.5h-1zM206,410h1V508h-1zM208,453h1V471h-1zM212,429h1V493h-1zM216,463h1V473.5h-1zM219,441h1V515h-1zM222,293h1V302h-1zM226,415h1V460h-1zM229,431h1V469.5h-1zM232,412.5h1V466.5h-1zM234,344h1V500h-1zM236,497h1V521h-1zM238,338h1V485h-1zM240,466h1V483h-1zM242,422h1V473.5h-1zM246,356h1V371h-1zM249,514h1V522h-1zM251,72.5h1V514h-1zM253,432h1V503h-1zM256,491.5h1V511h-1zM258,473h1V497h-1zM263,446h1V503h-1zM265,327.5h1V487.5h-1zM267,362h1V487.5h-1zM270,371h1V472h-1zM277,407h1V415h-1zM279,280h1V415h-1zM281,469.5h1V493h-1zM283,455.5h1V469h-1zM285,329h1V430.5h-1zM288,306.5h1V372h-1zM293,408h1V426h-1zM295,442h1V462.5h-1zM300,293h1V403h-1zM309,198h1V448.5h-1zM315,314h1V516.5h-1zM318,466.5h1V494.5h-1zM326,456h1V487.5h-1zM337,412h1V505.5h-1zM339,467h1V528h-1zM341,483h1V530h-1zM345,377.5h1V396h-1zM347,430h1V483h-1zM350,469h1V472h-1zM353,493.5h1V520h-1zM356,513.5h1V525h-1zM359,462h1V511h-1zM363,530h1V546h-1zM366,435h1V516.5h-1zM368,440.5h1V508h-1zM372,450h1V476h-1zM376,436h1V465h-1zM379,460h1V522h-1zM382,467.5h1V501h-1zM386,357h1V414h-1zM389,422.5h1V508h-1zM393,498h1V504.5h-1zM395,357h1V509h-1zM401,443h1V497h-1zM403,474h1V497h-1zM406,448h1V527.5h-1zM410,479h1V508.5h-1zM418,299h1V498h-1zM421,339h1V452h-1zM425,467.5h1V520.5h-1zM427,464h1V476h-1zM431,522h1V529.5h-1zM433,444.5h1V526h-1zM435,434h1V480h-1zM438,522.5h1V536h-1zM441,392h1V529h-1zM445,298h1V530.5h-1zM447,514.5h1V528.5h-1zM450,434h1V528.5h-1zM452,324h1V551h-1zM454,482.5h1V490.5h-1zM461,352.5h1V381h-1zM464,351.5h1V506h-1zM466,462.5h1V514.5h-1zM468,421h1V504.5h-1zM471,497.5h1V504.5h-1zM473,474h1V531.5h-1zM475,461h1V471h-1zM481,329h1V512.5h-1zM484,498.5h1V505h-1zM486,498h1V504h-1zM491,234h1V519.5h-1zM493,508h1V512.5h-1zM497,508.5h1V549.5h-1zM499,435h1V535.5h-1zM502,484h1V498h-1zM506,464h1V536h-1zM509,294h1V514h-1zM511,473h1V482h-1zM516,477.5h1V544.5h-1zM518,421h1V501.5h-1zM520,442h1V501.5h-1zM524,449h1V454h-1zM526,442h1V454h-1zM528,472h1V499.5h-1zM530,475h1V499.5h-1zM534,441h1V506.5h-1zM538,492h1V537h-1zM541,485h1V502h-1zM543,490h1V510h-1zM546,439.5h1V529h-1zM549,475h1V511h-1zM554,421h1V513.5h-1zM558,390h1V511h-1zM560,497h1V518.5h-1zM566,325h1V331h-1zM570,512.5h1V526.5h-1zM572,508h1V519.5h-1zM574,501.5h1V519.5h-1zM577,306h1V535h-1zM579,492.5h1V504h-1zM585,504h1V514.5h-1zM589,499.5h1V502.5h-1zM598,392.5h1V444h-1zM603,500h1V524.5h-1zM605,464h1V524.5h-1zM608,440h1V525.5h-1zM611,388h1V515.5h-1zM613,316.5h1V542h-1zM616,416h1V500.5h-1zM619,399h1V521h-1zM621,507h1V521h-1zM623,516h1V532.5h-1zM626,495.5h1V505h-1zM629,465h1V527h-1zM636,451h1V475h-1zM639,501h1V515.5h-1zM645,506.5h1V516h-1zM647,400.5h1V516h-1zM652,492.5h1V527h-1zM655,475h1V515.5h-1zM657,455.5h1V502h-1zM660,431h1V455h-1zM664,492h1V527h-1zM668,296.5h1V501h-1zM671,496h1V517h-1zM675,505h1V537.5h-1zM682,502.5h1V550h-1zM685,417h1V511.5h-1zM687,491h1V511.5h-1zM690,495h1V527.5h-1zM692,506.5h1V526h-1zM695,461h1V515.5h-1zM700,390.5h1V499.5h-1zM703,447.5h1V516.5h-1zM707,507.5h1V534.5h-1zM712,457.5h1V485h-1zM716,518h1V536.5h-1zM718,485h1V551.5h-1zM720,424h1V451h-1zM725,489.5h1V541.5h-1zM728,488.5h1V530.5h-1zM732,514h1V533.5h-1zM736,454.5h1V480h-1zM739,475h1V503.5h-1zM741,370.5h1V504h-1zM748,475h1V498.5h-1zM751,318h1V516h-1zM754,466h1V534.5h-1zM757,177.5h1V331h-1zM759,501.5h1V520.5h-1zM764,504.5h1V523.5h-1zM770,503.5h1V519h-1zM772,522.5h1V537h-1zM774,516h1V535.5h-1zM777,494.5h1V500.5h-1zM780,454h1V487.5h-1zM784,272h1V492h-1zM787,515.5h1V540.5h-1zM790,523.5h1V531h-1zM794,474h1V524h-1zM802,516.5h1V523h-1zM805,476.5h1V523h-1zM807,503h1V523h-1zM809,520h1V538.5h-1zM812,424.5h1V523h-1zM815,509h1V520.5h-1zM818,478h1V508.5h-1zM821,453h1V500h-1zM823,418h1V500h-1zM825,416h1V521h-1zM829,514h1V523h-1zM835,519.5h1V527h-1zM839,477h1V499.5h-1zM845,486h1V511h-1zM849,472h1V501h-1zM852,473h1V518h-1zM854,443h1V518h-1zM856,507.5h1V531.5h-1zM858,457h1V536h-1zM860,379h1V504.5h-1zM862,488.5h1V504.5h-1zM869,511.5h1V515.5h-1zM872,452h1V482.5h-1zM876,450h1V518h-1zM879,515h1V532.5h-1zM881,499.5h1V524.5h-1zM884,508h1V523.5h-1zM888,491h1V539.5h-1zM891,513.5h1V531.5h-1zM894,476h1V496h-1zM897,436h1V554h-1zM900,401h1V426h-1zM903,497.5h1V537h-1zM906,518.5h1V551h-1zM908,505h1V536.5h-1zM911,450h1V538h-1zM914,430.5h1V490h-1zM917,431h1V504.5h-1zM920,508.5h1V530h-1zM922,520h1V530.5h-1zM924,479h1V535h-1zM929,423.5h1V539h-1zM931,514h1V518h-1zM934,541h1V544h-1zM936,492.5h1V504h-1zM940,460h1V538.5h-1zM945,504.5h1V541.5h-1zM948,496.5h1V520.5h-1zM950,474h1V490h-1zM956,481.5h1V517h-1zM960,503.5h1V536.5h-1zM964,508h1V511h-1zM967,497.5h1V513h-1zM969,430h1V486h-1zM973,510h1V530h-1zM976,517h1V530h-1zM978,407.5h1V475h-1zM982,469h1V504.5h-1zM987,478h1V529.5h-1zM989,427h1V530h-1zM992,521h1V541h-1zM996,511.5h1V549.5h-1zM999,534.5h1V543h-1zM1003,253h1V526.5h-1zM1010,514.5h1V529.5h-1zM1012,387.5h1V519.5h-1zM1015,520.5h1V531h-1zM1019,534h1V550.5h-1zM1021,460h1V466h-1zM1024,467.5h1V507h-1zM1028,530h1V537.5h-1zM1031,492.5h1V501h-1zM1034,493.5h1V545.5h-1zM1037,184h1V506h-1zM1042,490h1V548h-1zM1044,535h1V542h-1zM1046,526.5h1V538.5h-1zM1048,517.5h1V538.5h-1zM1050,502h1V558h-1zM1053,493h1V536h-1zM1057,485h1V513h-1zM1059,495.5h1V524.5h-1zM1061,434h1V540.5h-1zM1066,440h1V521h-1zM1073,539h1V543h-1zM1078,524.5h1V530h-1zM1080,460h1V537h-1zM1082,527.5h1V537h-1zM1084,331h1V512h-1zM1087,492.5h1V549h-1zM1090,537h1V541.5h-1zM1092,381h1V541.5h-1zM1094,535h1V562h-1zM1096,500.5h1V561h-1zM1099,505.5h1V528.5h-1zM1101,503.5h1V528.5h-1zM1103,506h1V562.5h-1zM1105,494.5h1V557.5h-1zM1109,514.5h1V519.5h-1zM1114,403h1V499.5h-1zM1116,551h1V555.5h-1zM1119,510h1V523.5h-1zM1122,499h1V508.5h-1zM1124,525.5h1V529.5h-1zM1128,506.5h1V529.5h-1zM1131,461.5h1V476h-1zM1134,495h1V551.5h-1zM1137,512h1V524h-1zM1142,357h1V472h-1zM1148,461h1V524h-1zM1150,522h1V528h-1zM1152,519.5h1V555h-1zM1154,469h1V514.5h-1zM1160,399.5h1V509h-1zM1163,464h1V527.5h-1z"/>
<rect x="373" y="588.0" width="1" height="1.0" fill="#1f77b4" shape-rendering="crispEdges"/><rect x="477" y="588.0" width="1" height="9.0" fill="#1f77b4" shape-rendering="crispEdges"/><rect x="598" y="588.0" width="1" height="2.0" fill="#1f77b4" shape-rendering="crispEdges"/><rect x="681" y="588.0" width="1" height="1.0" fill="#1f77b4" shape-rendering="crispEdges"/>
<g class="yt"><text x="52" y="594.0">0</text><text x="52" y="512.5">200</text><text x="52" y="431.0">400</text><text x="52" y="349.5">600</text><text x="52" y="268.0">800</text><text x="52" y="186.5">1000</text><text x="52" y="105.0">1200</text><text x="52" y="23.5">1400</text></g>
<g transform="translate(16,334.0) rotate(-90)" fill="#444"><title>文章数</title><g class="cj" transform="scale(0.14)"><use href="#u6587" x="0"/><use href="#u7ae0" x="100"/><use href="#u6570" x="200"/></g></g>
<g class="xt" fill="#444"><g transform="translate(47.90,637) rotate(90)"><title>彭小六</title><g class="cj" transform="scale(0.12)"><use href="#u5f6d" x="0"/><use href="#u5c0f" x="100"/><use href="#u516d" x="200"/></g></g>
<g transform="translate(62.34,637) rotate(90)"><title>委婉的鱼</title><g class="cj" transform="scale(0.12)"><use href="#u59d4" x="0"/><use href="#u5a49" x="100"/><use href="#u7684" x="200"/><use href="#u9c7c" x="300"/></g></g>
<g transform="translate(76.78,637) rotate(90)"><title>冰冰圆</title><g class="cj" transform="scale(0.12)"><use href="#u51b0" x="0"/><use href="#u51b0" x="100"/><use href="#u5706" x="200"/></g></g>
<g transform="translate(91.22,637) rotate(90)"><title>三月弯钩</title><g class="cj" transform="scale(0.12)"><use href="#u4e09" x="0"/><use href="#u6708" x="100"/><use href="#u5f2f" x="200"/><use href="#u94a9" x="300"/></g></g>
<g transform="translate(105.66,637) rotate(90)"><title>逆尘</title><g class="cj" transform="scale(0.12)"><use href="#u9006" x="0"/><use href="#u5c18" x="100"/></g></g>
<g transform="translate(120.10,637) rotate(90)"><title>花花骚年</title><g class="cj" transform="scale(0.12)"><use href="#u82b1" x="0"/><use href="#u82b1" x="100"/><use href="#u9a9a" x="200"/><use href="#u5e74" x="300"/></g></g>
<g transform="translate(134.54,637) rotate(90)"><title>慧眼识鱼</title><g class="cj" transform="scale(0.12)"><use href="#u6167" x="0"/><use href="#u773c" x="100"/><use href="#u8bc6" x="200"/><use href="#u9c7c" x="300"/></g></g>
<g transform="translate(148.98,637) rotate(90)"><title>木阿阿木</title><g class="cj" transform="scale(0.12)"><use href="#u6728" x="0"/><use href="#u963f" x="100"/><use href="#u963f" x="200"/><use href="#u6728" x="300"/></g></g>
<g transform="translate(163.42,637) rotate(90)"><title>夕夕酱</title><g class="cj" transform="scale(0.12)"><use href="#u5915" x="0"/><use href="#u5915" x="100"/><use href="#u9171" x="200"/></g></g>
<g transform="translate(177.86,637) rotate(90)"><title>猫小主</title><g class="cj" transform="scale(0.12)"><use href="#u732b" x="0"/><use href="#u5c0f" x="100"/><use href="#u4e3b" x="200"/></g></g>
<g transform="translate(192.30,637) rotate(90)"><title>李艳鹏</title><g class="cj" transform="scale(0.12)"><use href="#u674e" x="0"/><use href="#u8273" x="100"/><use href="#u9e4f" x="200"/></g></g>
<g transform="translate(206.74,637) rotate(90)"><title>小木山庄的溜</title><g class="cj" transform="scale(0.12)"><use href="#u5c0f" x="0"/><use href="#u6728" x="100"/><use href="#u5c71" x="200"/><use href="#u5e84" x="300"/><use href="#u7684" x="400"/><use href="#u6e9c" x="500"/></g></g>
<g transform="translate(221.18,637) rotate(90)"><title>邹郎</title><g class="cj" transform="scale(0.12)"><use href="#u90b9" x="0"/><use href="#u90ce" x="100"/></g></g>
<g transform="translate(235.62,637) rotate(90)"><title>YolandaLIUs</title><text x="0.00" font-size="12.4">YolandaLIUs</text></g>
<g transform="translate(250.06,637) rotate(90)"><title>煌寒了</title><g class="cj" transform="scale(0.12)"><use href="#u714c" x="0"/><use href="#u5bd2" x="100"/><use href="#u4e86" x="200"/></g></g>
<g transform="translate(264.50,637) rotate(90)"><title>耗子昊</title><g class="cj" transform="scale(0.12)"><use href="#u8017" x="0"/><use href="#u5b50" x="100"/><use href="#u660a" x="200"/></g></g>
<g transform="translate(278.94,637) rotate(90)"><title>简书小二</title><g class="cj" transform="scale(0.12)"><use href="#u7b80" x="0"/><use href="#u4e66" x="100"/><use href="#u5c0f" x="200"/><use href="#u4e8c" x="300"/></g></g>
<g transform="translate(293.38,637) rotate(90)"><title>补拙莫如勤Lv</title><g class="cj" transform="scale(0.12)"><use href="#u8865" x="0"/><use href="#u62d9" x="100"/><use href="#u83ab" x="200"/><use href="#u5982" x="300"/><use href="#u52e4" x="400"/></g><text x="60.00" font-size="12.5">Lv</text></g>
<g transform="translate(307.82,637) rotate(90)"><title>帅帅芳</title><g class="cj" transform="scale(0.12)"><use href="#u5e05" x="0"/><use href="#u5e05" x="100"/><use href="#u82b3" x="200"/></g></g>
<g transform="translate(322.26,637) rotate(90)"><title>广哥626</title><g class="cj" transform="scale(0.12)"><use href="#u5e7f" x="0"/><use href="#u54e5" x="100"/></g><text x="24.00" font-size="12.5">626</text></g>
<g transform="translate(336.70,637) rotate(90)"><title>筑巢鸟</title><g class="cj" transform="scale(0.12)"><use href="#u7b51" x="0"/><use href="#u5de2" x="100"/><use href="#u9e1f" x="200"/></g></g>
<g transform="translate(351.14,637) rotate(90)"><title>妖妖的小骨头</title><g class="cj" transform="scale(0.12)"><use href="#u5996" x="0"/><use href="#u5996" x="100"/><use href="#u7684" x="200"/><use href="#u5c0f" x="300"/><use href="#u9aa8" x="400"/><use href="#u5934" x="500"/></g></g>
<g transform="translate(365.58,637) rotate(90)"><title>隐藏的猫</title><g class="cj" transform="scale(0.12)"><use href="#u9690" x="0"/><use href="#u85cf" x="100"/><use href="#u7684" x="200"/><use href="#u732b" x="300"/></g></g>
<g transform="translate(380.02,637) rotate(90)"><title>毛公子的文殊</title><g class="cj" transform="scale(0.12)"><use href="#u6bdb" x="0"/><use href="#u516c" x="100"/><use href="#u5b50" x="200"/><use href="#u7684" x="300"/><use href="#u6587" x="400"/><use href="#u6b8a" x="500"/></g></g>
<g transform="translate(394.46,637) rotate(90)"><title>彭小伊</title><g class="cj" transform="scale(0.12)"><use href="#u5f6d" x="0"/><use href="#u5c0f" x="100"/><use href="#u4f0a" x="200"/></g></g>
<g transform="translate(408.90,637) rotate(90)"><title>小糯米妈妈</title><g class="cj" transform="scale(0.12)"><use href="#u5c0f" x="0"/><use href="#u7cef" x="100"/><use href="#u7c73" x="200"/><use href="#u5988" x="300"/><use href="#u5988" x="400"/></g></g>
<g transform="translate(423.34,637) rotate(90)"><title>流水潺湲</title><g class="cj" transform="scale(0.12)"><use href="#u6d41" x="0"/><use href="#u6c34" x="100"/><use href="#u6f7a" x="200"/><use href="#u6e72" x="300"/></g></g>
<g transform="translate(437.78,637) rotate(90)"><title>猿小v</title><g class="cj" transform="scale(0.12)"><use href="#u733f" x="0"/><use href="#u5c0f" x="100"/></g><text x="24.00" font-size="12.5">v</text></g>
<g transform="translate(452.22,637) rotate(90)"><title>葡萄周末</title><g class="cj" transform="scale(0.12)"><use href="#u8461" x="0"/><use href="#u8404" x="100"/><use href="#u5468" x="200"/><use href="#u672b" x="300"/></g></g>
<g transform="translate(466.66,637) rotate(90)"><title>张小四儿</title><g class="cj" transform="scale(0.12)"><use href="#u5f20" x="0"/><use href="#u5c0f" x="100"/><use href="#u56db" x="200"/><use href="#u513f" x="300"/></g></g>
<g transform="translate(481.10,637) rotate(90)"><title>水羊</title><g class="cj" transform="scale(0.12)"><use href="#u6c34" x="0"/><use href="#u7f8a" x="100"/></g></g>
<g transform="translate(495.54,637) rotate(90)"><title>花少颜</title><g class="cj" transform="scale(0.12)"><use href="#u82b1" x="0"/><use href="#u5c11" x="100"/><use href="#u989c" x="200"/></g></g>
<g transform="translate(509.98,637) rotate(90)"><title>前头捉了张辉</title><g class="cj" transform="scale(0.12)"><use href="#u524d" x="0"/><use href="#u5934" x="100"/><use href="#u6349" x="200"/><use href="#u4e86" x="300"/><use href="#u5f20" x="400"/><use href="#u8f89" x="500"/></g></g>
<g transform="translate(524.42,637) rotate(90)"><title>瑾年盛夏</title><g class="cj" transform="scale(0.12)"><use href="#u747e" x="0"/><use href="#u5e74" x="100"/><use href="#u76db" x="200"/><use href="#u590f" x="300"/></g></g>
<g transform="translate(538.86,637) rotate(90)"><title>凤凤风筝</title><g class="cj" transform="scale(0.12)"><use href="#u51e4" x="0"/><use href="#u51e4" x="100"/><use href="#u98ce" x="200"/><use href="#u7b5d" x="300"/></g></g>
<g transform="translate(553.30,637) rotate(90)"><title>欣然绘画</title><g class="cj" transform="scale(0.12)"><use href="#u6b23" x="0"/><use href="#u7136" x="100"/><use href="#u7ed8" x="200"/><use href="#u753b" x="300"/></g></g>
<g transform="translate(567.74,637) rotate(90)"><title>美丽邓</title><g class="cj" transform="scale(0.12)"><use href="#u7f8e" x="0"/><use href="#u4e3d" x="100"/><use href="#u9093" x="200"/></g></g>
<g transform="translate(582.18,637) rotate(90)"><title>风铃儿声声</title><g class="cj" transform="scale(0.12)"><use href="#u98ce" x="0"/><use href="#u94c3" x="100"/><use href="#u513f" x="200"/><use href="#u58f0" x="300"/><use href="#u58f0" x="400"/></g></g>
<g transform="translate(596.62,637) rotate(90)"><title>文竹君</title><g class="cj" transform="scale(0.12)"><use href="#u6587" x="0"/><use href="#u7af9" x="100"/><use href="#u541b" x="200"/></g></g>
<g transform="translate(611.06,637) rotate(90)"><title>黎明超</title><g class="cj" transform="scale(0.12)"><use href="#u9ece" x="0"/><use href="#u660e" x="100"/><use href="#u8d85" x="200"/></g></g>
<g transform="translate(625.50,637) rotate(90)"><title>洞洞2</title><g class="cj" transform="scale(0.12)"><use href="#u6d1e" x="0"/><use href="#u6d1e" x="100"/></g><text x="24.00" font-size="12.5">2</text></g>
<g transform="translate(639.94,637) rotate(90)"><title>陈清伟</title><g class="cj" transform="scale(0.12)"><use href="#u9648" x="0"/><use href="#u6e05" x="100"/><use href="#u4f1f" x="200"/></g></g>
<g transform="translate(654.38,637) rotate(90)"><title>青鱼吹浪</title><g class="cj" transform="scale(0.12)"><use href="#u9752" x="0"/><use href="#u9c7c" x="100"/><use href="#u5439" x="200"/><use href="#u6d6a" x="300"/></g></g>
<g transform="translate(668.82,637) rotate(90)"><title>王一涵666</title><g class="cj" transform="scale(0.12)"><use href="#u738b" x="0"/><use href="#u4e00" x="100"/><use href="#u6db5" x="200"/></g><text x="36.00" font-size="12.5">666</text></g>
<g transform="translate(683.26,637) rotate(90)"><title>清照兄</title><g class="cj" transform="scale(0.12)"><use href="#u6e05" x="0"/><use href="#u7167" x="100"/><use href="#u5144" x="200"/></g></g>
<g transform="translate(697.70,637) rotate(90)"><title>扫一室</title><g class="cj" transform="scale(0.12)"><use href="#u626b" x="0"/><use href="#u4e00" x="100"/><use href="#u5ba4" x="200"/></g></g>
<g transform="translate(712.14,637) rotate(90)"><title>等待的兔子</title><g class="cj" transform="scale(0.12)"><use href="#u7b49" x="0"/><use href="#u5f85" x="100"/><use href="#u7684" x="200"/><use href="#u5154" x="300"/><use href="#u5b50" x="400"/></g></g>
<g transform="translate(726.58,637) rotate(90)"><title>正霖居士</title><g class="cj" transform="scale(0.12)"><use href="#u6b63" x="0"/><use href="#u9716" x="100"/><use href="#u5c45" x="200"/><use href="#u58eb" x="300"/></g></g>
<g transform="translate(741.02,637) rotate(90)"><title>hua说法律</title><text x="0.00" font-size="12.9">hua</text><g class="cj" transform="scale(0.12)"><use href="#u8bf4" x="179"/><use href="#u6cd5" x="279"/><use href="#u5f8b" x="379"/></g></g>
<g transform="translate(755.46,637) rotate(90)"><title>不二菌</title><g class="cj" transform="scale(0.12)"><use href="#u4e0d" x="0"/><use href="#u4e8c" x="100"/><use href="#u83cc" x="200"/></g></g>
<g transform="translate(769.90,637) rotate(90)"><title>一纸一话</title><g class="cj" transform="scale(0.12)"><use href="#u4e00" x="0"/><use href="#u7eb8" x="100"/><use href="#u4e00" x="200"/><use href="#u8bdd" x="300"/></g></g>
<g transform="translate(784.34,637) rotate(90)"><title>阿西小败</title><g class="cj" transform="scale(0.12)"><use href="#u963f" x="0"/><use href="#u897f" x="100"/><use href="#u5c0f" x="200"/><use href="#u8d25" x="300"/></g></g>
<g transform="translate(798.78,637) rotate(90)"><title>小薇子</title><g class="cj" transform="scale(0.12)"><use href="#u5c0f" x="0"/><use href="#u8587" x="100"/><use href="#u5b50" x="200"/></g></g>
<g transform="translate(813.22,637) rotate(90)"><title>小进画论</title><g class="cj" transform="scale(0.12)"><use href="#u5c0f" x="0"/><use href="#u8fdb" x="100"/><use href="#u753b" x="200"/><use href="#u8bba" x="300"/></g></g>
<g transform="translate(827.66,637) rotate(90)"><title>烟雨芦荻</title><g class="cj" transform="scale(0.12)"><use href="#u70df" x="0"/><use href="#u96e8" x="100"/><use href="#u82a6" x="200"/><use href="#u837b" x="300"/></g></g>
<g transform="translate(842.10,637) rotate(90)"><title>曾世强</title><g class="cj" transform="scale(0.12)"><use href="#u66fe" x="0"/><use href="#u4e16" x="100"/><use href="#u5f3a" x="200"/></g></g>
<g transform="translate(856.54,637) rotate(90)"><title>原同学</title><g class="cj" transform="scale(0.12)"><use href="#u539f" x="0"/><use href="#u540c" x="100"/><use href="#u5b66" x="200"/></g></g>
<g transform="translate(870.98,637) rotate(90)"><title>Sprite雪碧</title><text x="0.00" font-size="13.2">Sprite</text><g class="cj" transform="scale(0.12)"><use href="#u96ea" x="287"/><use href="#u78a7" x="387"/></g></g>
<g transform="translate(885.42,637) rotate(90)"><title>ericjj</title><text x="0.00" font-size="13.6">ericjj</text></g>
<g transform="translate(899.86,637) rotate(90)"><title>Catherinella</title><text x="0.00" font-size="13.6">Catherinella</text></g>
<g transform="translate(914.30,637) rotate(90)"><title>張嘉宾</title><g class="cj" transform="scale(0.12)"><use href="#u5f35" x="0"/><use href="#u5609" x="100"/><use href="#u5bbe" x="200"/></g></g>
<g transform="translate(928.74,637) rotate(90)"><title>石川河女神</title><g class="cj" transform="scale(0.12)"><use href="#u77f3" x="0"/><use href="#u5ddd" x="100"/><use href="#u6cb3" x="200"/><use href="#u5973" x="300"/><use href="#u795e" x="400"/></g></g>
<g transform="translate(943.18,637) rotate(90)"><title>文章爱说实话</title><g class="cj" transform="scale(0.12)"><use href="#u6587" x="0"/><use href="#u7ae0" x="100"/><use href="#u7231" x="200"/><use href="#u8bf4" x="300"/><use href="#u5b9e" x="400"/><use href="#u8bdd" x="500"/></g></g>
<g transform="translate(957.62,637) rotate(90)"><title>东旭鹰</title><g class="cj" transform="scale(0.12)"><use href="#u4e1c" x="0"/><use href="#u65ed" x="100"/><use href="#u9e70" x="200"/></g></g>
<g transform="translate(972.06,637) rotate(90)"><title>七YI奎</title><g class="cj" transform="scale(0.12)"><use href="#u4e03" x="0"/></g><text x="12.00" font-size="12.5">YI</text><g class="cj" transform="scale(0.12)"><use href="#u594e" x="198"/></g></g>
<g transform="translate(986.50,637) rotate(90)"><title>丛阑</title><g class="cj" transform="scale(0.12)"><use href="#u4e1b" x="0"/><use href="#u9611" x="100"/></g></g>
<g transform="translate(1000.94,637) rotate(90)"><title>小灰灰喜欢吃</title><g class="cj" transform="scale(0.12)"><use href="#u5c0f" x="0"/><use href="#u7070" x="100"/><use href="#u7070" x="200"/><use href="#u559c" x="300"/><use href="#u6b22" x="400"/><use href="#u5403" x="500"/></g></g>
<g transform="translate(1015.38,637) rotate(90)"><title>写手罂菲</title><g class="cj" transform="scale(0.12)"><use href="#u5199" x="0"/><use href="#u624b" x="100"/><use href="#u7f42" x="200"/><use href="#u83f2" x="300"/></g></g>
<g transform="translate(1029.82,637) rotate(90)"><title>少女爱旅游</title><g class="cj" transform="scale(0.12)"><use href="#u5c11" x="0"/><use href="#u5973" x="100"/><use href="#u7231" x="200"/><use href="#u65c5" x="300"/><use href="#u6e38" x="400"/></g></g>
<g transform="translate(1044.26,637) rotate(90)"><title>王昌江</title><g class="cj" transform="scale(0.12)"><use href="#u738b" x="0"/><use href="#u660c" x="100"/><use href="#u6c5f" x="200"/></g></g>
<g transform="translate(1058.70,637) rotate(90)"><title>凤释少</title><g class="cj" transform="scale(0.12)"><use href="#u51e4" x="0"/><use href="#u91ca" x="100"/><use href="#u5c11" x="200"/></g></g>
<g transform="translate(1073.14,637) rotate(90)"><title>大白PM</title><g class="cj" transform="scale(0.12)"><use href="#u5927" x="0"/><use href="#u767d" x="100"/></g><text x="24.00" font-size="12.5">PM</text></g>
<g transform="translate(1087.58,637) rotate(90)"><title>早茶的月光</title><g class="cj" transform="scale(0.12)"><use href="#u65e9" x="0"/><use href="#u8336" x="100"/><use href="#u7684" x="200"/><use href="#u6708" x="300"/><use href="#u5149" x="400"/></g></g>
<g transform="translate(1102.02,637) rotate(90)"><title>雀安知呐</title><g class="cj" transform="scale(0.12)"><use href="#u96c0" x="0"/><use href="#u5b89" x="100"/><use href="#u77e5" x="200"/><use href="#u5450" x="300"/></g></g>
<g transform="translate(1116.46,637) rotate(90)"><title>三分钟姑娘Hc</title><g class="cj" transform="scale(0.12)"><use href="#u4e09" x="0"/><use href="#u5206" x="100"/><use href="#u949f" x="200"/><use href="#u59d1" x="300"/><use href="#u5a18" x="400"/></g><text x="60.00" font-size="12.5">Hc</text></g>
<g transform="translate(1130.90,637) rotate(90)"><title>逆流而上啊</title><g class="cj" transform="scale(0.12)"><use href="#u9006" x="0"/><use href="#u6d41" x="100"/><use href="#u800c" x="200"/><use href="#u4e0a" x="300"/><use href="#u554a" x="400"/></g></g>
<g transform="translate(1145.34,637) rotate(90)"><title>云影仙</title><g class="cj" transform="scale(0.12)"><use href="#u4e91" x="0"/><use href="#u5f71" x="100"/><use href="#u4ed9" x="200"/></g></g>
<g transform="translate(1159.78,637) rotate(90)"><title>河南韩光明</title><g class="cj" transform="scale(0.12)"><use href="#u6cb3" x="0"/><use href="#u5357" x="100"/><use href="#u97e9" x="200"/><use href="#u5149" x="300"/><use href="#u660e" x="400"/></g></g>
</g>
</svg>
</body></html>
